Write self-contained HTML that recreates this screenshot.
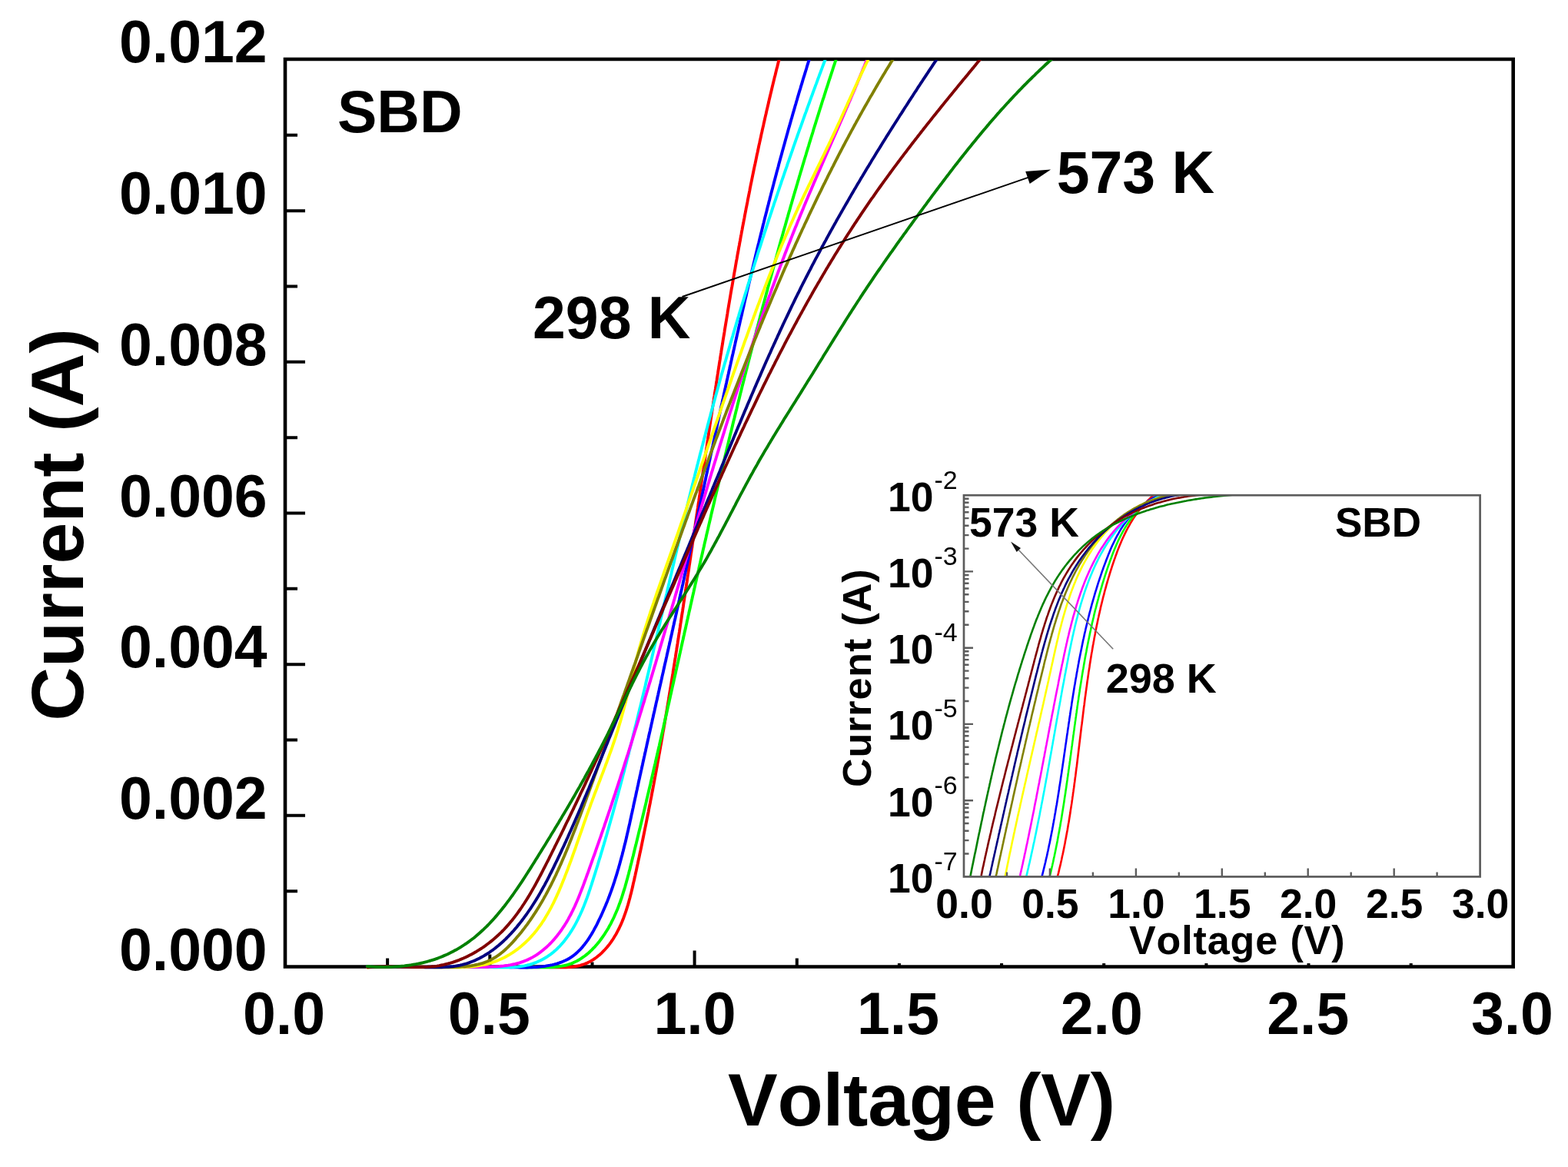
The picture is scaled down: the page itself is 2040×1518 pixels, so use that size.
<!DOCTYPE html><html><head><meta charset="utf-8"><title>I-V characteristics</title>
<style>html,body{margin:0;padding:0;background:#fff;}svg{display:block;}text{font-kerning:none;font-feature-settings:"kern" 0;}</style></head><body>
<svg width="2040" height="1518" viewBox="0 0 2040 1518">
<rect width="2040" height="1518" fill="#fff"/>
<defs><clipPath id="cm"><rect x="371" y="78" width="1598" height="1183"/></clipPath><clipPath id="ci"><rect x="1254" y="645" width="672" height="496"/></clipPath></defs>
<g fill="none" stroke="#000" stroke-width="4.6" stroke-linecap="square">
<path d="M371.0 77.0 H1968.7 V1257.5 H371.0 Z"/>
</g>
<path d="M371.0 1159.2h16 M371.0 1060.8h26 M371.0 962.5h16 M371.0 864.2h26 M371.0 765.8h16 M371.0 667.5h26 M371.0 569.2h16 M371.0 470.8h26 M371.0 372.5h16 M371.0 274.2h26 M371.0 175.8h16 M504.1 1257.5v-11.0 M637.3 1257.5v-16.0 M770.5 1257.5v-6.0 M903.6 1257.5v-21.0 M1036.8 1257.5v-11.0 M1169.9 1257.5v-4.5 M1303.1 1257.5v-4.5 M1436.2 1257.5v-4.5 M1569.4 1257.5v-4.5 M1702.5 1257.5v-4.5 M1835.7 1257.5v-4.5" stroke="#000" stroke-width="4" fill="none"/>
<g clip-path="url(#cm)" fill="none" stroke-width="3.9" stroke-linejoin="round" stroke-linecap="round">
<path d="M478.0 1257.4 481.0 1257.4 484.0 1257.5 487.0 1257.5 490.0 1257.5 493.0 1257.6 496.0 1257.6 499.0 1257.6 502.1 1257.6 505.1 1257.7 508.1 1257.7 511.1 1257.7 514.1 1257.7 517.1 1257.7 520.1 1257.7 523.1 1257.7 526.1 1257.7 529.1 1257.7 532.2 1257.7 535.2 1257.7 538.2 1257.7 541.2 1257.7 544.2 1257.7 547.2 1257.7 550.2 1257.7 553.2 1257.7 556.2 1257.7 559.2 1257.7 562.3 1257.7 565.3 1257.6 568.3 1257.6 571.3 1257.6 574.3 1257.6 577.3 1257.6 580.3 1257.6 583.3 1257.6 586.3 1257.6 589.3 1257.5 592.4 1257.5 595.4 1257.5 598.4 1257.5 601.4 1257.5 604.4 1257.5 607.4 1257.5 610.4 1257.5 613.4 1257.5 616.4 1257.4 619.4 1257.4 622.5 1257.4 625.5 1257.4 628.5 1257.4 631.5 1257.4 634.5 1257.4 637.5 1257.4 640.5 1257.4 643.5 1257.4 646.5 1257.4 649.5 1257.4 652.6 1257.4 655.6 1257.5 658.6 1257.5 661.6 1257.5 664.6 1257.5 667.6 1257.5 670.6 1257.6 673.6 1257.6 676.6 1257.6 679.6 1257.6 682.7 1257.7 685.7 1257.7 688.7 1257.7 691.7 1257.8 694.7 1257.8 697.7 1257.9 700.7 1257.9 703.7 1258.0 706.7 1258.0 709.7 1258.1 712.8 1258.1 715.8 1258.2 718.8 1258.3 721.8 1258.3 724.8 1258.4 727.8 1258.4 730.8 1258.4 733.8 1258.4 736.8 1258.3 739.8 1258.1 742.8 1257.8 745.8 1257.5 748.8 1257.0 751.8 1256.5 754.7 1255.8 757.6 1254.9 760.4 1254.0 763.2 1252.9 766.0 1251.6 768.6 1250.2 771.2 1248.6 773.7 1247.0 776.1 1245.2 778.5 1243.3 780.8 1241.4 783.0 1239.3 785.1 1237.2 787.2 1235.0 789.2 1232.8 791.1 1230.5 793.0 1228.1 794.8 1225.7 796.5 1223.2 798.1 1220.7 799.7 1218.1 801.3 1215.5 802.7 1212.9 804.1 1210.2 805.5 1207.5 806.7 1204.8 808.0 1202.1 809.2 1199.3 810.3 1196.5 811.4 1193.7 812.4 1190.9 813.4 1188.1 814.4 1185.2 815.3 1182.3 816.2 1179.5 817.1 1176.6 817.9 1173.7 818.7 1170.8 819.5 1167.9 820.2 1165.0 821.0 1162.0 821.7 1159.1 822.4 1156.2 823.1 1153.3 823.7 1150.3 824.4 1147.4 825.1 1144.5 825.7 1141.5 826.4 1138.6 827.0 1135.6 827.7 1132.7 828.3 1129.8 828.9 1126.8 829.6 1123.9 830.2 1120.9 830.8 1118.0 831.5 1115.0 832.1 1112.1 832.7 1109.2 833.4 1106.2 834.0 1103.3 834.6 1100.3 835.2 1097.4 835.8 1094.4 836.4 1091.5 837.0 1088.5 837.6 1085.6 838.2 1082.6 838.8 1079.7 839.4 1076.7 840.0 1073.8 840.6 1070.8 841.2 1067.9 841.8 1064.9 842.4 1062.0 843.0 1059.0 843.6 1056.1 844.1 1053.1 844.7 1050.2 845.3 1047.2 845.9 1044.3 846.4 1041.3 847.0 1038.3 847.6 1035.4 848.1 1032.4 848.7 1029.5 849.3 1026.5 849.8 1023.6 850.4 1020.6 850.9 1017.6 851.5 1014.7 852.0 1011.7 852.6 1008.8 853.1 1005.8 853.7 1002.8 854.2 999.9 854.8 996.9 855.3 994.0 855.8 991.0 856.4 988.0 856.9 985.1 857.4 982.1 858.0 979.1 858.5 976.2 859.0 973.2 859.5 970.3 860.1 967.3 860.6 964.3 861.1 961.4 861.6 958.4 862.1 955.4 862.6 952.5 863.2 949.5 863.7 946.5 864.2 943.6 864.7 940.6 865.2 937.6 865.7 934.7 866.2 931.7 866.7 928.7 867.2 925.8 867.7 922.8 868.2 919.8 868.7 916.9 869.2 913.9 869.7 910.9 870.2 907.9 870.6 905.0 871.1 902.0 871.6 899.0 872.1 896.1 872.6 893.1 873.1 890.1 873.6 887.2 874.0 884.2 874.5 881.2 875.0 878.2 875.5 875.3 875.9 872.3 876.4 869.3 876.9 866.3 877.4 863.4 877.8 860.4 878.3 857.4 878.8 854.5 879.2 851.5 879.7 848.5 880.2 845.5 880.6 842.6 881.1 839.6 881.6 836.6 882.0 833.6 882.5 830.7 882.9 827.7 883.4 824.7 883.9 821.7 884.3 818.8 884.8 815.8 885.2 812.8 885.7 809.8 886.1 806.9 886.6 803.9 887.0 800.9 887.5 797.9 888.0 795.0 888.4 792.0 888.9 789.0 889.3 786.0 889.7 783.1 890.2 780.1 890.6 777.1 891.1 774.1 891.5 771.1 892.0 768.2 892.4 765.2 892.9 762.2 893.3 759.2 893.8 756.3 894.2 753.3 894.6 750.3 895.1 747.3 895.5 744.4 896.0 741.4 896.4 738.4 896.8 735.4 897.3 732.4 897.7 729.5 898.2 726.5 898.6 723.5 899.0 720.5 899.5 717.6 899.9 714.6 900.4 711.6 900.8 708.6 901.2 705.6 901.7 702.7 902.1 699.7 902.5 696.7 903.0 693.7 903.4 690.7 903.8 687.8 904.3 684.8 904.7 681.8 905.1 678.8 905.6 675.9 906.0 672.9 906.5 669.9 906.9 666.9 907.3 663.9 907.8 661.0 908.2 658.0 908.6 655.0 909.1 652.0 909.5 649.0 909.9 646.1 910.4 643.1 910.8 640.1 911.2 637.1 911.7 634.2 912.1 631.2 912.5 628.2 913.0 625.2 913.4 622.2 913.9 619.3 914.3 616.3 914.7 613.3 915.2 610.3 915.6 607.4 916.0 604.4 916.5 601.4 916.9 598.4 917.4 595.4 917.8 592.5 918.2 589.5 918.7 586.5 919.1 583.5 919.6 580.6 920.0 577.6 920.4 574.6 920.9 571.6 921.3 568.6 921.8 565.7 922.2 562.7 922.7 559.7 923.1 556.7 923.5 553.8 924.0 550.8 924.4 547.8 924.9 544.8 925.3 541.9 925.8 538.9 926.2 535.9 926.7 532.9 927.1 529.9 927.6 527.0 928.0 524.0 928.5 521.0 928.9 518.0 929.4 515.1 929.8 512.1 930.3 509.1 930.8 506.1 931.2 503.2 931.7 500.2 932.1 497.2 932.6 494.2 933.0 491.3 933.5 488.3 934.0 485.3 934.4 482.3 934.9 479.4 935.4 476.4 935.8 473.4 936.3 470.4 936.8 467.5 937.2 464.5 937.7 461.5 938.2 458.6 938.6 455.6 939.1 452.6 939.6 449.6 940.1 446.7 940.5 443.7 941.0 440.7 941.5 437.7 942.0 434.8 942.5 431.8 942.9 428.8 943.4 425.9 943.9 422.9 944.4 419.9 944.9 417.0 945.4 414.0 945.9 411.0 946.4 408.0 946.8 405.1 947.3 402.1 947.8 399.1 948.3 396.2 948.8 393.2 949.3 390.2 949.8 387.3 950.3 384.3 950.8 381.3 951.3 378.4 951.8 375.4 952.4 372.4 952.9 369.5 953.4 366.5 953.9 363.5 954.4 360.6 954.9 357.6 955.4 354.6 956.0 351.7 956.5 348.7 957.0 345.7 957.5 342.8 958.0 339.8 958.6 336.8 959.1 333.9 959.6 330.9 960.2 328.0 960.7 325.0 961.2 322.0 961.8 319.1 962.3 316.1 962.9 313.1 963.4 310.2 963.9 307.2 964.5 304.3 965.0 301.3 965.6 298.3 966.1 295.4 966.7 292.4 967.3 289.5 967.8 286.5 968.4 283.6 968.9 280.6 969.5 277.6 970.1 274.7 970.6 271.7 971.2 268.8 971.8 265.8 972.4 262.9 972.9 259.9 973.5 257.0 974.1 254.0 974.7 251.1 975.3 248.1 975.8 245.1 976.4 242.2 977.0 239.2 977.6 236.3 978.2 233.3 978.8 230.4 979.4 227.4 980.0 224.5 980.6 221.5 981.2 218.6 981.8 215.7 982.5 212.7 983.1 209.8 983.7 206.8 984.3 203.9 984.9 200.9 985.6 198.0 986.2 195.0 986.8 192.1 987.4 189.1 988.1 186.2 988.7 183.3 989.4 180.3 990.0 177.4 990.6 174.4 991.3 171.5 991.9 168.6 992.6 165.6 993.3 162.7 993.9 159.7 994.6 156.8 995.2 153.9 995.9 150.9 996.6 148.0 997.2 145.1 997.9 142.1 998.6 139.2 999.3 136.3 1000.0 133.3 1000.6 130.4 1001.3 127.5 1002.0 124.5 1002.7 121.6 1003.4 118.7 1004.1 115.8 1004.8 112.8 1005.5 109.9 1006.2 107.0 1006.9 104.1 1007.6 101.1 1008.4 98.2 1009.1 95.3 1009.8 92.4 1010.5 89.4 1011.3 86.5 1012.0 83.6 1012.7 80.7 1013.5 77.8 1014.2 74.9 1014.9 71.9 1015.7 69.0" stroke="#ff0000"/>
<path d="M477.9 1257.3 480.9 1257.3 483.9 1257.4 487.0 1257.5 490.0 1257.5 493.0 1257.6 496.0 1257.6 499.0 1257.7 502.0 1257.7 505.0 1257.7 508.0 1257.7 511.0 1257.8 514.1 1257.8 517.1 1257.8 520.1 1257.8 523.1 1257.8 526.1 1257.8 529.1 1257.8 532.1 1257.8 535.1 1257.8 538.2 1257.8 541.2 1257.8 544.2 1257.8 547.2 1257.7 550.2 1257.7 553.2 1257.7 556.2 1257.7 559.2 1257.7 562.2 1257.6 565.3 1257.6 568.3 1257.6 571.3 1257.6 574.3 1257.5 577.3 1257.5 580.3 1257.5 583.3 1257.5 586.3 1257.5 589.3 1257.4 592.4 1257.4 595.4 1257.4 598.4 1257.4 601.4 1257.4 604.4 1257.3 607.4 1257.3 610.4 1257.3 613.4 1257.3 616.4 1257.3 619.5 1257.3 622.5 1257.3 625.5 1257.3 628.5 1257.3 631.5 1257.3 634.5 1257.3 637.5 1257.4 640.5 1257.4 643.6 1257.4 646.6 1257.4 649.6 1257.5 652.6 1257.5 655.6 1257.6 658.6 1257.6 661.6 1257.7 664.6 1257.7 667.6 1257.8 670.7 1257.9 673.7 1257.9 676.7 1258.0 679.7 1258.1 682.7 1258.1 685.7 1258.2 688.7 1258.2 691.7 1258.2 694.7 1258.3 697.8 1258.3 700.8 1258.3 703.8 1258.3 706.8 1258.3 709.8 1258.3 712.8 1258.2 715.8 1258.1 718.8 1258.0 721.8 1257.8 724.8 1257.5 727.8 1257.2 730.8 1256.7 733.8 1256.1 736.7 1255.5 739.6 1254.6 742.4 1253.7 745.2 1252.6 748.0 1251.3 750.7 1250.0 753.3 1248.5 755.9 1246.9 758.4 1245.2 760.8 1243.5 763.2 1241.6 765.5 1239.7 767.7 1237.7 769.9 1235.6 772.0 1233.4 774.1 1231.3 776.1 1229.0 778.0 1226.7 779.9 1224.4 781.7 1222.0 783.5 1219.5 785.2 1217.1 786.9 1214.6 788.5 1212.0 790.1 1209.5 791.7 1206.9 793.1 1204.2 794.6 1201.6 795.9 1198.9 797.3 1196.2 798.6 1193.5 799.8 1190.8 801.0 1188.0 802.2 1185.2 803.4 1182.5 804.5 1179.6 805.5 1176.8 806.6 1174.0 807.6 1171.2 808.6 1168.3 809.5 1165.5 810.4 1162.6 811.3 1159.7 812.2 1156.8 813.1 1154.0 813.9 1151.1 814.7 1148.2 815.5 1145.3 816.3 1142.4 817.1 1139.4 817.9 1136.5 818.6 1133.6 819.4 1130.7 820.1 1127.8 820.8 1124.9 821.6 1121.9 822.3 1119.0 823.0 1116.1 823.8 1113.2 824.5 1110.3 825.2 1107.3 825.9 1104.4 826.6 1101.5 827.4 1098.6 828.1 1095.6 828.8 1092.7 829.5 1089.8 830.2 1086.9 830.9 1083.9 831.6 1081.0 832.4 1078.1 833.1 1075.1 833.8 1072.2 834.5 1069.3 835.2 1066.4 835.9 1063.4 836.6 1060.5 837.3 1057.6 838.0 1054.6 838.7 1051.7 839.4 1048.8 840.1 1045.9 840.8 1042.9 841.4 1040.0 842.1 1037.1 842.8 1034.1 843.5 1031.2 844.2 1028.3 844.9 1025.3 845.6 1022.4 846.3 1019.5 846.9 1016.5 847.6 1013.6 848.3 1010.7 849.0 1007.7 849.7 1004.8 850.3 1001.9 851.0 998.9 851.7 996.0 852.4 993.1 853.0 990.1 853.7 987.2 854.4 984.3 855.1 981.3 855.7 978.4 856.4 975.5 857.1 972.5 857.8 969.6 858.4 966.6 859.1 963.7 859.8 960.8 860.4 957.8 861.1 954.9 861.8 952.0 862.4 949.0 863.1 946.1 863.7 943.1 864.4 940.2 865.1 937.3 865.7 934.3 866.4 931.4 867.1 928.5 867.7 925.5 868.4 922.6 869.0 919.6 869.7 916.7 870.4 913.8 871.0 910.8 871.7 907.9 872.3 904.9 873.0 902.0 873.6 899.1 874.3 896.1 874.9 893.2 875.6 890.3 876.3 887.3 876.9 884.4 877.6 881.4 878.2 878.5 878.9 875.6 879.5 872.6 880.2 869.7 880.8 866.7 881.5 863.8 882.2 860.9 882.8 857.9 883.5 855.0 884.1 852.0 884.8 849.1 885.4 846.2 886.1 843.2 886.7 840.3 887.4 837.3 888.0 834.4 888.7 831.5 889.3 828.5 890.0 825.6 890.6 822.6 891.3 819.7 892.0 816.8 892.6 813.8 893.3 810.9 893.9 807.9 894.6 805.0 895.2 802.1 895.9 799.1 896.5 796.2 897.2 793.2 897.9 790.3 898.5 787.4 899.2 784.4 899.8 781.5 900.5 778.5 901.1 775.6 901.8 772.7 902.5 769.7 903.1 766.8 903.8 763.9 904.4 760.9 905.1 758.0 905.8 755.0 906.4 752.1 907.1 749.2 907.8 746.2 908.4 743.3 909.1 740.4 909.7 737.4 910.4 734.5 911.1 731.5 911.7 728.6 912.4 725.7 913.1 722.7 913.8 719.8 914.4 716.9 915.1 713.9 915.8 711.0 916.4 708.1 917.1 705.1 917.8 702.2 918.5 699.2 919.1 696.3 919.8 693.4 920.5 690.4 921.2 687.5 921.8 684.6 922.5 681.6 923.2 678.7 923.9 675.8 924.6 672.8 925.2 669.9 925.9 667.0 926.6 664.0 927.3 661.1 928.0 658.2 928.7 655.2 929.4 652.3 930.0 649.4 930.7 646.4 931.4 643.5 932.1 640.6 932.8 637.7 933.5 634.7 934.2 631.8 934.9 628.9 935.6 625.9 936.3 623.0 937.0 620.1 937.7 617.1 938.4 614.2 939.1 611.3 939.8 608.4 940.5 605.4 941.2 602.5 941.9 599.6 942.6 596.6 943.3 593.7 944.0 590.8 944.7 587.9 945.4 584.9 946.1 582.0 946.8 579.1 947.5 576.1 948.2 573.2 948.9 570.3 949.6 567.4 950.3 564.4 951.1 561.5 951.8 558.6 952.5 555.7 953.2 552.7 953.9 549.8 954.6 546.9 955.4 544.0 956.1 541.0 956.8 538.1 957.5 535.2 958.3 532.3 959.0 529.3 959.7 526.4 960.4 523.5 961.2 520.6 961.9 517.7 962.6 514.7 963.3 511.8 964.1 508.9 964.8 506.0 965.5 503.0 966.3 500.1 967.0 497.2 967.8 494.3 968.5 491.4 969.2 488.4 970.0 485.5 970.7 482.6 971.5 479.7 972.2 476.8 972.9 473.9 973.7 470.9 974.4 468.0 975.2 465.1 975.9 462.2 976.7 459.3 977.4 456.4 978.2 453.4 978.9 450.5 979.7 447.6 980.4 444.7 981.2 441.8 982.0 438.9 982.7 435.9 983.5 433.0 984.2 430.1 985.0 427.2 985.8 424.3 986.5 421.4 987.3 418.5 988.1 415.6 988.8 412.6 989.6 409.7 990.4 406.8 991.2 403.9 991.9 401.0 992.7 398.1 993.5 395.2 994.3 392.3 995.0 389.4 995.8 386.5 996.6 383.5 997.4 380.6 998.2 377.7 998.9 374.8 999.7 371.9 1000.5 369.0 1001.3 366.1 1002.1 363.2 1002.9 360.3 1003.7 357.4 1004.5 354.5 1005.3 351.6 1006.1 348.7 1006.9 345.8 1007.7 342.9 1008.5 340.0 1009.3 337.1 1010.1 334.2 1010.9 331.3 1011.7 328.4 1012.5 325.4 1013.3 322.5 1014.1 319.6 1014.9 316.7 1015.7 313.8 1016.5 310.9 1017.4 308.0 1018.2 305.2 1019.0 302.3 1019.8 299.4 1020.6 296.5 1021.5 293.6 1022.3 290.7 1023.1 287.8 1023.9 284.9 1024.8 282.0 1025.6 279.1 1026.4 276.2 1027.3 273.3 1028.1 270.4 1028.9 267.5 1029.8 264.6 1030.6 261.7 1031.4 258.8 1032.3 255.9 1033.1 253.0 1034.0 250.2 1034.8 247.3 1035.7 244.4 1036.5 241.5 1037.4 238.6 1038.2 235.7 1039.1 232.8 1039.9 229.9 1040.8 227.0 1041.6 224.2 1042.5 221.3 1043.4 218.4 1044.2 215.5 1045.1 212.6 1046.0 209.7 1046.8 206.8 1047.7 204.0 1048.6 201.1 1049.4 198.2 1050.3 195.3 1051.2 192.4 1052.1 189.6 1052.9 186.7 1053.8 183.8 1054.7 180.9 1055.6 178.0 1056.5 175.2 1057.4 172.3 1058.2 169.4 1059.1 166.5 1060.0 163.6 1060.9 160.8 1061.8 157.9 1062.7 155.0 1063.6 152.1 1064.5 149.3 1065.4 146.4 1066.3 143.5 1067.2 140.7 1068.1 137.8 1069.0 134.9 1069.9 132.0 1070.8 129.2 1071.8 126.3 1072.7 123.4 1073.6 120.6 1074.5 117.7 1075.4 114.8 1076.4 112.0 1077.3 109.1 1078.2 106.2 1079.1 103.4 1080.1 100.5 1081.0 97.6 1081.9 94.8 1082.9 91.9 1083.8 89.0 1084.7 86.2 1085.7 83.3 1086.6 80.5 1087.6 77.6 1088.5 74.7 1089.4 71.9 1090.4 69.0" stroke="#00ff00"/>
<path d="M477.8 1257.3 480.8 1257.4 483.8 1257.4 486.8 1257.5 489.8 1257.5 492.9 1257.6 495.9 1257.6 498.9 1257.7 501.9 1257.7 504.9 1257.7 507.9 1257.8 510.9 1257.8 513.9 1257.8 516.9 1257.8 520.0 1257.8 523.0 1257.8 526.0 1257.8 529.0 1257.8 532.0 1257.8 535.0 1257.8 538.0 1257.8 541.0 1257.7 544.1 1257.7 547.1 1257.7 550.1 1257.7 553.1 1257.6 556.1 1257.6 559.1 1257.6 562.1 1257.6 565.1 1257.5 568.1 1257.5 571.2 1257.5 574.2 1257.5 577.2 1257.4 580.2 1257.4 583.2 1257.4 586.2 1257.4 589.2 1257.3 592.2 1257.3 595.2 1257.3 598.3 1257.3 601.3 1257.3 604.3 1257.3 607.3 1257.3 610.3 1257.3 613.3 1257.3 616.3 1257.3 619.3 1257.3 622.4 1257.3 625.4 1257.3 628.4 1257.4 631.4 1257.4 634.4 1257.5 637.4 1257.5 640.4 1257.6 643.4 1257.6 646.4 1257.7 649.5 1257.8 652.5 1257.8 655.5 1257.9 658.5 1258.0 661.5 1258.1 664.5 1258.2 667.5 1258.3 670.5 1258.4 673.5 1258.4 676.6 1258.5 679.6 1258.5 682.6 1258.5 685.6 1258.5 688.6 1258.4 691.6 1258.3 694.6 1258.1 697.6 1258.0 700.6 1257.7 703.6 1257.4 706.6 1257.1 709.6 1256.7 712.6 1256.2 715.5 1255.7 718.5 1255.1 721.4 1254.4 724.3 1253.6 727.2 1252.7 730.0 1251.7 732.8 1250.5 735.6 1249.3 738.3 1248.0 740.9 1246.5 743.4 1244.9 745.9 1243.1 748.3 1241.3 750.5 1239.3 752.7 1237.2 754.8 1235.1 756.9 1232.9 758.8 1230.6 760.7 1228.2 762.5 1225.8 764.3 1223.4 766.0 1220.9 767.6 1218.3 769.2 1215.8 770.7 1213.2 772.2 1210.6 773.6 1207.9 775.1 1205.3 776.5 1202.6 777.8 1199.9 779.1 1197.2 780.4 1194.5 781.7 1191.8 783.0 1189.0 784.2 1186.3 785.4 1183.5 786.6 1180.8 787.8 1178.0 788.9 1175.2 790.1 1172.4 791.2 1169.6 792.3 1166.8 793.3 1164.0 794.4 1161.1 795.4 1158.3 796.4 1155.5 797.4 1152.6 798.3 1149.8 799.3 1146.9 800.2 1144.0 801.1 1141.2 802.0 1138.3 802.9 1135.4 803.7 1132.5 804.6 1129.6 805.4 1126.8 806.2 1123.9 807.0 1121.0 807.8 1118.0 808.6 1115.1 809.4 1112.2 810.1 1109.3 810.9 1106.4 811.6 1103.5 812.3 1100.5 813.1 1097.6 813.8 1094.7 814.5 1091.8 815.2 1088.8 815.8 1085.9 816.5 1083.0 817.2 1080.0 817.8 1077.1 818.5 1074.2 819.2 1071.2 819.8 1068.3 820.5 1065.3 821.1 1062.4 821.7 1059.4 822.4 1056.5 823.0 1053.6 823.7 1050.6 824.3 1047.7 824.9 1044.7 825.6 1041.8 826.2 1038.8 826.9 1035.9 827.5 1033.0 828.1 1030.0 828.8 1027.1 829.4 1024.1 830.1 1021.2 830.7 1018.2 831.3 1015.3 832.0 1012.4 832.6 1009.4 833.3 1006.5 833.9 1003.5 834.6 1000.6 835.2 997.7 835.9 994.7 836.5 991.8 837.2 988.8 837.8 985.9 838.5 982.9 839.1 980.0 839.8 977.1 840.4 974.1 841.1 971.2 841.7 968.2 842.4 965.3 843.0 962.4 843.7 959.4 844.3 956.5 845.0 953.5 845.7 950.6 846.3 947.7 847.0 944.7 847.6 941.8 848.3 938.9 848.9 935.9 849.6 933.0 850.2 930.0 850.9 927.1 851.6 924.2 852.2 921.2 852.9 918.3 853.5 915.3 854.2 912.4 854.9 909.5 855.5 906.5 856.2 903.6 856.8 900.6 857.5 897.7 858.1 894.8 858.8 891.8 859.5 888.9 860.1 886.0 860.8 883.0 861.4 880.1 862.1 877.1 862.8 874.2 863.4 871.3 864.1 868.3 864.7 865.4 865.4 862.4 866.1 859.5 866.7 856.6 867.4 853.6 868.0 850.7 868.7 847.7 869.4 844.8 870.0 841.9 870.7 838.9 871.3 836.0 872.0 833.1 872.6 830.1 873.3 827.2 874.0 824.2 874.6 821.3 875.3 818.4 875.9 815.4 876.6 812.5 877.2 809.5 877.9 806.6 878.6 803.7 879.2 800.7 879.9 797.8 880.5 794.8 881.2 791.9 881.8 789.0 882.5 786.0 883.1 783.1 883.8 780.1 884.4 777.2 885.1 774.3 885.7 771.3 886.4 768.4 887.1 765.4 887.7 762.5 888.4 759.6 889.0 756.6 889.7 753.7 890.3 750.7 890.9 747.8 891.6 744.9 892.2 741.9 892.9 739.0 893.5 736.0 894.2 733.1 894.8 730.1 895.5 727.2 896.1 724.3 896.8 721.3 897.4 718.4 898.0 715.4 898.7 712.5 899.3 709.6 900.0 706.6 900.6 703.7 901.2 700.7 901.9 697.8 902.5 694.8 903.2 691.9 903.8 688.9 904.4 686.0 905.1 683.1 905.7 680.1 906.3 677.2 907.0 674.2 907.6 671.3 908.2 668.3 908.9 665.4 909.5 662.5 910.2 659.5 910.8 656.6 911.4 653.6 912.1 650.7 912.7 647.7 913.3 644.8 914.0 641.8 914.6 638.9 915.2 636.0 915.9 633.0 916.5 630.1 917.1 627.1 917.8 624.2 918.4 621.2 919.0 618.3 919.7 615.3 920.3 612.4 920.9 609.5 921.6 606.5 922.2 603.6 922.8 600.6 923.5 597.7 924.1 594.7 924.7 591.8 925.4 588.8 926.0 585.9 926.6 583.0 927.3 580.0 927.9 577.1 928.5 574.1 929.2 571.2 929.8 568.2 930.4 565.3 931.1 562.4 931.7 559.4 932.4 556.5 933.0 553.5 933.6 550.6 934.3 547.6 934.9 544.7 935.5 541.7 936.2 538.8 936.8 535.9 937.5 532.9 938.1 530.0 938.7 527.0 939.4 524.1 940.0 521.1 940.7 518.2 941.3 515.3 942.0 512.3 942.6 509.4 943.2 506.4 943.9 503.5 944.5 500.6 945.2 497.6 945.8 494.7 946.5 491.7 947.1 488.8 947.8 485.9 948.4 482.9 949.1 480.0 949.7 477.0 950.4 474.1 951.0 471.1 951.7 468.2 952.3 465.3 953.0 462.3 953.7 459.4 954.3 456.5 955.0 453.5 955.6 450.6 956.3 447.6 956.9 444.7 957.6 441.8 958.3 438.8 958.9 435.9 959.6 432.9 960.3 430.0 960.9 427.1 961.6 424.1 962.3 421.2 962.9 418.3 963.6 415.3 964.3 412.4 965.0 409.5 965.6 406.5 966.3 403.6 967.0 400.6 967.7 397.7 968.3 394.8 969.0 391.8 969.7 388.9 970.4 386.0 971.1 383.0 971.7 380.1 972.4 377.2 973.1 374.2 973.8 371.3 974.5 368.4 975.2 365.5 975.9 362.5 976.6 359.6 977.3 356.7 978.0 353.7 978.7 350.8 979.4 347.9 980.1 344.9 980.8 342.0 981.5 339.1 982.2 336.2 982.9 333.2 983.6 330.3 984.3 327.4 985.0 324.4 985.7 321.5 986.4 318.6 987.2 315.7 987.9 312.7 988.6 309.8 989.3 306.9 990.0 304.0 990.8 301.1 991.5 298.1 992.2 295.2 992.9 292.3 993.7 289.4 994.4 286.4 995.1 283.5 995.9 280.6 996.6 277.7 997.4 274.8 998.1 271.8 998.8 268.9 999.6 266.0 1000.3 263.1 1001.1 260.2 1001.8 257.3 1002.6 254.3 1003.3 251.4 1004.1 248.5 1004.9 245.6 1005.6 242.7 1006.4 239.8 1007.1 236.9 1007.9 233.9 1008.7 231.0 1009.5 228.1 1010.2 225.2 1011.0 222.3 1011.8 219.4 1012.6 216.5 1013.3 213.6 1014.1 210.7 1014.9 207.8 1015.7 204.8 1016.5 201.9 1017.3 199.0 1018.1 196.1 1018.9 193.2 1019.7 190.3 1020.5 187.4 1021.3 184.5 1022.1 181.6 1022.9 178.7 1023.7 175.8 1024.5 172.9 1025.3 170.0 1026.1 167.1 1027.0 164.2 1027.8 161.3 1028.6 158.4 1029.4 155.5 1030.3 152.6 1031.1 149.7 1031.9 146.8 1032.8 143.9 1033.6 141.1 1034.4 138.2 1035.3 135.3 1036.1 132.4 1037.0 129.5 1037.8 126.6 1038.7 123.7 1039.5 120.8 1040.4 117.9 1041.3 115.1 1042.1 112.2 1043.0 109.3 1043.9 106.4 1044.7 103.5 1045.6 100.6 1046.5 97.8 1047.4 94.9 1048.3 92.0 1049.2 89.1 1050.0 86.2 1050.9 83.4 1051.8 80.5 1052.7 77.6 1053.6 74.7 1054.5 71.9 1055.4 69.0" stroke="#0000ff"/>
<path d="M477.8 1257.4 480.8 1257.5 483.8 1257.5 486.9 1257.6 489.9 1257.6 492.9 1257.6 495.9 1257.7 498.9 1257.7 501.9 1257.7 504.9 1257.7 507.9 1257.7 510.9 1257.7 513.9 1257.7 516.9 1257.7 519.9 1257.7 523.0 1257.7 526.0 1257.7 529.0 1257.7 532.0 1257.7 535.0 1257.7 538.0 1257.7 541.0 1257.6 544.0 1257.6 547.0 1257.6 550.0 1257.6 553.0 1257.5 556.0 1257.5 559.1 1257.5 562.1 1257.5 565.1 1257.4 568.1 1257.4 571.1 1257.4 574.1 1257.4 577.1 1257.4 580.1 1257.4 583.1 1257.4 586.1 1257.4 589.1 1257.3 592.1 1257.4 595.2 1257.4 598.2 1257.4 601.2 1257.4 604.2 1257.4 607.2 1257.4 610.2 1257.5 613.2 1257.5 616.2 1257.5 619.2 1257.6 622.2 1257.6 625.2 1257.7 628.2 1257.8 631.3 1257.8 634.3 1257.9 637.3 1258.0 640.3 1258.1 643.3 1258.2 646.3 1258.3 649.3 1258.3 652.3 1258.4 655.3 1258.4 658.3 1258.4 661.3 1258.3 664.3 1258.2 667.3 1258.1 670.3 1257.9 673.3 1257.6 676.3 1257.2 679.3 1256.8 682.3 1256.3 685.2 1255.7 688.1 1255.0 691.0 1254.1 693.9 1253.2 696.7 1252.2 699.5 1251.0 702.2 1249.8 704.9 1248.5 707.6 1247.0 710.2 1245.5 712.7 1243.9 715.2 1242.2 717.6 1240.4 720.0 1238.5 722.2 1236.6 724.5 1234.5 726.6 1232.4 728.7 1230.3 730.7 1228.0 732.7 1225.7 734.6 1223.4 736.4 1221.0 738.2 1218.6 740.0 1216.2 741.6 1213.7 743.3 1211.2 744.9 1208.6 746.4 1206.0 747.9 1203.4 749.3 1200.8 750.7 1198.1 752.1 1195.4 753.4 1192.7 754.7 1190.0 755.9 1187.3 757.2 1184.5 758.3 1181.7 759.5 1178.9 760.6 1176.1 761.7 1173.3 762.7 1170.5 763.8 1167.7 764.8 1164.9 765.8 1162.0 766.7 1159.2 767.7 1156.3 768.6 1153.5 769.6 1150.6 770.5 1147.7 771.4 1144.9 772.3 1142.0 773.2 1139.1 774.1 1136.3 775.0 1133.4 775.9 1130.5 776.8 1127.6 777.7 1124.8 778.5 1121.9 779.4 1119.0 780.3 1116.1 781.2 1113.3 782.0 1110.4 782.9 1107.5 783.8 1104.6 784.6 1101.7 785.5 1098.8 786.3 1096.0 787.2 1093.1 788.0 1090.2 788.9 1087.3 789.7 1084.4 790.5 1081.5 791.4 1078.6 792.2 1075.7 793.0 1072.8 793.8 1069.9 794.6 1067.0 795.5 1064.2 796.3 1061.3 797.1 1058.4 797.9 1055.5 798.7 1052.6 799.5 1049.7 800.3 1046.8 801.1 1043.9 801.9 1041.0 802.7 1038.1 803.5 1035.2 804.3 1032.2 805.0 1029.3 805.8 1026.4 806.6 1023.5 807.4 1020.6 808.1 1017.7 808.9 1014.8 809.7 1011.9 810.4 1009.0 811.2 1006.1 812.0 1003.2 812.7 1000.3 813.5 997.3 814.2 994.4 815.0 991.5 815.7 988.6 816.5 985.7 817.2 982.8 818.0 979.9 818.7 976.9 819.5 974.0 820.2 971.1 820.9 968.2 821.7 965.3 822.4 962.4 823.1 959.4 823.8 956.5 824.6 953.6 825.3 950.7 826.0 947.8 826.7 944.8 827.5 941.9 828.2 939.0 828.9 936.1 829.6 933.2 830.3 930.2 831.0 927.3 831.7 924.4 832.4 921.5 833.2 918.5 833.9 915.6 834.6 912.7 835.3 909.8 836.0 906.8 836.7 903.9 837.4 901.0 838.1 898.1 838.8 895.1 839.5 892.2 840.1 889.3 840.8 886.3 841.5 883.4 842.2 880.5 842.9 877.6 843.6 874.6 844.3 871.7 845.0 868.8 845.7 865.8 846.4 862.9 847.0 860.0 847.7 857.1 848.4 854.1 849.1 851.2 849.8 848.3 850.4 845.3 851.1 842.4 851.8 839.5 852.5 836.5 853.2 833.6 853.8 830.7 854.5 827.8 855.2 824.8 855.9 821.9 856.6 819.0 857.2 816.0 857.9 813.1 858.6 810.2 859.3 807.2 859.9 804.3 860.6 801.4 861.3 798.4 862.0 795.5 862.6 792.6 863.3 789.6 864.0 786.7 864.7 783.8 865.3 780.8 866.0 777.9 866.7 775.0 867.4 772.1 868.0 769.1 868.7 766.2 869.4 763.3 870.1 760.3 870.8 757.4 871.4 754.5 872.1 751.5 872.8 748.6 873.5 745.7 874.1 742.7 874.8 739.8 875.5 736.9 876.2 734.0 876.9 731.0 877.5 728.1 878.2 725.2 878.9 722.2 879.6 719.3 880.3 716.4 881.0 713.4 881.7 710.5 882.3 707.6 883.0 704.7 883.7 701.7 884.4 698.8 885.1 695.9 885.8 692.9 886.5 690.0 887.2 687.1 887.9 684.2 888.6 681.2 889.3 678.3 890.0 675.4 890.7 672.5 891.4 669.5 892.1 666.6 892.8 663.7 893.5 660.8 894.2 657.8 894.9 654.9 895.6 652.0 896.3 649.1 897.1 646.1 897.8 643.2 898.5 640.3 899.2 637.4 899.9 634.5 900.6 631.5 901.4 628.6 902.1 625.7 902.8 622.8 903.6 619.9 904.3 616.9 905.0 614.0 905.8 611.1 906.5 608.2 907.2 605.3 908.0 602.4 908.7 599.4 909.5 596.5 910.2 593.6 910.9 590.7 911.7 587.8 912.5 584.9 913.2 582.0 914.0 579.0 914.7 576.1 915.5 573.2 916.2 570.3 917.0 567.4 917.8 564.5 918.5 561.6 919.3 558.7 920.1 555.8 920.8 552.9 921.6 550.0 922.4 547.0 923.2 544.1 924.0 541.2 924.7 538.3 925.5 535.4 926.3 532.5 927.1 529.6 927.9 526.7 928.7 523.8 929.5 520.9 930.3 518.0 931.1 515.1 931.9 512.2 932.7 509.3 933.5 506.4 934.3 503.5 935.1 500.6 935.9 497.7 936.7 494.8 937.5 491.9 938.3 489.0 939.1 486.1 940.0 483.2 940.8 480.3 941.6 477.4 942.4 474.5 943.2 471.7 944.1 468.8 944.9 465.9 945.7 463.0 946.6 460.1 947.4 457.2 948.2 454.3 949.1 451.4 949.9 448.5 950.7 445.6 951.6 442.7 952.4 439.9 953.3 437.0 954.1 434.1 955.0 431.2 955.8 428.3 956.7 425.4 957.5 422.5 958.4 419.7 959.2 416.8 960.1 413.9 961.0 411.0 961.8 408.1 962.7 405.2 963.6 402.4 964.4 399.5 965.3 396.6 966.2 393.7 967.1 390.9 967.9 388.0 968.8 385.1 969.7 382.2 970.6 379.3 971.5 376.5 972.3 373.6 973.2 370.7 974.1 367.8 975.0 365.0 975.9 362.1 976.8 359.2 977.7 356.4 978.6 353.5 979.5 350.6 980.4 347.7 981.3 344.9 982.2 342.0 983.1 339.1 984.0 336.3 984.9 333.4 985.8 330.5 986.7 327.7 987.6 324.8 988.6 321.9 989.5 319.1 990.4 316.2 991.3 313.3 992.2 310.5 993.2 307.6 994.1 304.7 995.0 301.9 996.0 299.0 996.9 296.2 997.8 293.3 998.8 290.4 999.7 287.6 1000.6 284.7 1001.6 281.9 1002.5 279.0 1003.5 276.2 1004.4 273.3 1005.3 270.4 1006.3 267.6 1007.2 264.7 1008.2 261.9 1009.2 259.0 1010.1 256.2 1011.1 253.3 1012.0 250.5 1013.0 247.6 1013.9 244.8 1014.9 241.9 1015.9 239.1 1016.8 236.2 1017.8 233.4 1018.8 230.5 1019.8 227.7 1020.7 224.8 1021.7 222.0 1022.7 219.1 1023.7 216.3 1024.6 213.4 1025.6 210.6 1026.6 207.8 1027.6 204.9 1028.6 202.1 1029.6 199.2 1030.6 196.4 1031.5 193.6 1032.5 190.7 1033.5 187.9 1034.5 185.0 1035.5 182.2 1036.5 179.4 1037.5 176.5 1038.5 173.7 1039.5 170.9 1040.5 168.0 1041.6 165.2 1042.6 162.3 1043.6 159.5 1044.6 156.7 1045.6 153.8 1046.6 151.0 1047.6 148.2 1048.7 145.4 1049.7 142.5 1050.7 139.7 1051.7 136.9 1052.8 134.0 1053.8 131.2 1054.8 128.4 1055.8 125.6 1056.9 122.7 1057.9 119.9 1058.9 117.1 1060.0 114.3 1061.0 111.4 1062.1 108.6 1063.1 105.8 1064.1 103.0 1065.2 100.1 1066.2 97.3 1067.3 94.5 1068.3 91.7 1069.4 88.9 1070.4 86.1 1071.5 83.2 1072.6 80.4 1073.6 77.6 1074.7 74.8 1075.7 72.0 1076.8 69.2" stroke="#00ffff"/>
<path d="M477.9 1257.9 480.9 1257.9 483.9 1257.8 486.9 1257.7 489.9 1257.7 492.9 1257.6 495.9 1257.6 498.9 1257.5 501.9 1257.5 504.9 1257.5 507.9 1257.4 510.9 1257.4 513.9 1257.4 517.0 1257.4 520.0 1257.4 523.0 1257.4 526.0 1257.4 529.0 1257.4 532.0 1257.4 535.0 1257.4 538.0 1257.4 541.0 1257.4 544.0 1257.5 547.0 1257.5 550.0 1257.5 553.0 1257.5 556.1 1257.6 559.1 1257.6 562.1 1257.6 565.1 1257.6 568.1 1257.7 571.1 1257.7 574.1 1257.7 577.1 1257.8 580.1 1257.8 583.1 1257.8 586.1 1257.8 589.1 1257.8 592.2 1257.9 595.2 1257.9 598.2 1257.9 601.2 1257.9 604.2 1257.9 607.2 1257.9 610.2 1257.9 613.2 1257.9 616.2 1257.9 619.2 1257.9 622.2 1257.9 625.2 1257.8 628.2 1257.8 631.3 1257.8 634.3 1257.7 637.3 1257.6 640.3 1257.5 643.3 1257.4 646.3 1257.2 649.3 1257.0 652.3 1256.7 655.3 1256.4 658.3 1256.0 661.2 1255.6 664.2 1255.1 667.2 1254.5 670.1 1253.9 673.0 1253.1 675.9 1252.3 678.8 1251.4 681.6 1250.4 684.4 1249.3 687.2 1248.1 689.9 1246.8 692.5 1245.4 695.1 1243.9 697.7 1242.3 700.2 1240.6 702.6 1238.9 705.0 1237.0 707.4 1235.1 709.6 1233.2 711.9 1231.2 714.1 1229.1 716.2 1227.0 718.3 1224.8 720.3 1222.6 722.3 1220.3 724.2 1218.0 726.0 1215.6 727.9 1213.2 729.6 1210.8 731.4 1208.3 733.0 1205.8 734.7 1203.3 736.3 1200.8 737.8 1198.2 739.3 1195.6 740.7 1192.9 742.2 1190.3 743.5 1187.6 744.9 1184.9 746.2 1182.2 747.5 1179.5 748.7 1176.7 749.9 1174.0 751.1 1171.2 752.3 1168.4 753.4 1165.7 754.5 1162.9 755.6 1160.1 756.7 1157.3 757.8 1154.5 758.9 1151.6 759.9 1148.8 760.9 1146.0 762.0 1143.2 763.0 1140.4 764.0 1137.5 765.1 1134.7 766.1 1131.9 767.1 1129.0 768.1 1126.2 769.1 1123.4 770.1 1120.5 771.1 1117.7 772.1 1114.9 773.2 1112.0 774.2 1109.2 775.1 1106.4 776.1 1103.5 777.1 1100.7 778.1 1097.8 779.1 1095.0 780.1 1092.2 781.1 1089.3 782.1 1086.5 783.0 1083.6 784.0 1080.8 785.0 1077.9 786.0 1075.1 786.9 1072.2 787.9 1069.4 788.9 1066.5 789.8 1063.7 790.8 1060.8 791.7 1058.0 792.7 1055.1 793.7 1052.3 794.6 1049.4 795.6 1046.6 796.5 1043.7 797.4 1040.9 798.4 1038.0 799.3 1035.2 800.3 1032.3 801.2 1029.4 802.1 1026.6 803.1 1023.7 804.0 1020.9 804.9 1018.0 805.9 1015.1 806.8 1012.3 807.7 1009.4 808.6 1006.5 809.6 1003.7 810.5 1000.8 811.4 998.0 812.3 995.1 813.2 992.2 814.1 989.4 815.0 986.5 815.9 983.6 816.9 980.8 817.8 977.9 818.7 975.0 819.6 972.1 820.5 969.3 821.4 966.4 822.3 963.5 823.2 960.7 824.0 957.8 824.9 954.9 825.8 952.0 826.7 949.2 827.6 946.3 828.5 943.4 829.4 940.5 830.3 937.7 831.1 934.8 832.0 931.9 832.9 929.0 833.8 926.2 834.7 923.3 835.5 920.4 836.4 917.5 837.3 914.7 838.2 911.8 839.0 908.9 839.9 906.0 840.8 903.1 841.6 900.3 842.5 897.4 843.4 894.5 844.2 891.6 845.1 888.7 846.0 885.9 846.8 883.0 847.7 880.1 848.6 877.2 849.4 874.3 850.3 871.4 851.1 868.6 852.0 865.7 852.9 862.8 853.7 859.9 854.6 857.0 855.4 854.1 856.3 851.3 857.1 848.4 858.0 845.5 858.8 842.6 859.7 839.7 860.5 836.8 861.4 833.9 862.2 831.1 863.1 828.2 863.9 825.3 864.8 822.4 865.6 819.5 866.5 816.6 867.3 813.7 868.2 810.9 869.0 808.0 869.9 805.1 870.7 802.2 871.5 799.3 872.4 796.4 873.2 793.5 874.1 790.6 874.9 787.8 875.8 784.9 876.6 782.0 877.5 779.1 878.3 776.2 879.1 773.3 880.0 770.4 880.8 767.5 881.7 764.7 882.5 761.8 883.4 758.9 884.2 756.0 885.0 753.1 885.9 750.2 886.7 747.3 887.6 744.4 888.4 741.6 889.3 738.7 890.1 735.8 890.9 732.9 891.8 730.0 892.6 727.1 893.5 724.2 894.3 721.3 895.2 718.5 896.0 715.6 896.8 712.7 897.7 709.8 898.5 706.9 899.4 704.0 900.2 701.1 901.1 698.3 901.9 695.4 902.8 692.5 903.6 689.6 904.5 686.7 905.3 683.8 906.2 680.9 907.0 678.1 907.9 675.2 908.7 672.3 909.6 669.4 910.4 666.5 911.3 663.6 912.1 660.7 913.0 657.9 913.8 655.0 914.7 652.1 915.6 649.2 916.4 646.3 917.3 643.4 918.1 640.6 919.0 637.7 919.9 634.8 920.7 631.9 921.6 629.0 922.5 626.2 923.3 623.3 924.2 620.4 925.1 617.5 925.9 614.6 926.8 611.8 927.7 608.9 928.5 606.0 929.4 603.1 930.3 600.2 931.2 597.4 932.0 594.5 932.9 591.6 933.8 588.7 934.7 585.9 935.5 583.0 936.4 580.1 937.3 577.2 938.2 574.4 939.1 571.5 940.0 568.6 940.9 565.7 941.8 562.9 942.6 560.0 943.5 557.1 944.4 554.2 945.3 551.4 946.2 548.5 947.1 545.6 948.0 542.8 948.9 539.9 949.8 537.0 950.7 534.2 951.7 531.3 952.6 528.4 953.5 525.5 954.4 522.7 955.3 519.8 956.2 517.0 957.1 514.1 958.1 511.2 959.0 508.4 959.9 505.5 960.8 502.6 961.8 499.8 962.7 496.9 963.6 494.1 964.5 491.2 965.5 488.3 966.4 485.5 967.4 482.6 968.3 479.8 969.2 476.9 970.2 474.0 971.1 471.2 972.1 468.3 973.0 465.5 974.0 462.6 974.9 459.8 975.9 456.9 976.9 454.1 977.8 451.2 978.8 448.4 979.8 445.5 980.7 442.7 981.7 439.8 982.7 437.0 983.7 434.1 984.6 431.3 985.6 428.5 986.6 425.6 987.6 422.8 988.6 419.9 989.6 417.1 990.6 414.3 991.6 411.4 992.6 408.6 993.6 405.7 994.6 402.9 995.6 400.1 996.6 397.2 997.6 394.4 998.6 391.6 999.6 388.7 1000.6 385.9 1001.7 383.1 1002.7 380.3 1003.7 377.4 1004.7 374.6 1005.8 371.8 1006.8 369.0 1007.9 366.1 1008.9 363.3 1009.9 360.5 1011.0 357.7 1012.0 354.9 1013.1 352.0 1014.2 349.2 1015.2 346.4 1016.3 343.6 1017.4 340.8 1018.4 338.0 1019.5 335.2 1020.6 332.3 1021.6 329.5 1022.7 326.7 1023.8 323.9 1024.9 321.1 1026.0 318.3 1027.1 315.5 1028.2 312.7 1029.3 309.9 1030.4 307.1 1031.5 304.3 1032.6 301.5 1033.7 298.7 1034.8 295.9 1036.0 293.2 1037.1 290.4 1038.2 287.6 1039.4 284.8 1040.5 282.0 1041.6 279.2 1042.8 276.4 1043.9 273.7 1045.1 270.9 1046.2 268.1 1047.4 265.3 1048.5 262.5 1049.7 259.8 1050.9 257.0 1052.0 254.2 1053.2 251.5 1054.4 248.7 1055.6 245.9 1056.7 243.2 1057.9 240.4 1059.1 237.6 1060.3 234.9 1061.5 232.1 1062.7 229.3 1063.9 226.6 1065.1 223.8 1066.3 221.1 1067.5 218.3 1068.7 215.5 1069.9 212.8 1071.1 210.0 1072.3 207.3 1073.5 204.5 1074.7 201.8 1075.9 199.0 1077.1 196.2 1078.3 193.5 1079.5 190.7 1080.7 188.0 1081.9 185.2 1083.1 182.5 1084.3 179.7 1085.6 177.0 1086.8 174.2 1088.0 171.4 1089.2 168.7 1090.4 165.9 1091.6 163.2 1092.8 160.4 1094.0 157.7 1095.2 154.9 1096.4 152.2 1097.6 149.4 1098.8 146.6 1100.0 143.9 1101.2 141.1 1102.4 138.4 1103.6 135.6 1104.8 132.8 1106.0 130.1 1107.1 127.3 1108.3 124.5 1109.5 121.8 1110.7 119.0 1111.9 116.2 1113.0 113.5 1114.2 110.7 1115.4 107.9 1116.5 105.1 1117.7 102.4 1118.9 99.6 1120.0 96.8 1121.2 94.0 1122.3 91.3 1123.4 88.5 1124.6 85.7 1125.7 82.9 1126.8 80.1 1128.0 77.3 1129.1 74.5 1130.2 71.7 1131.3 68.9" stroke="#ff00ff"/>
<path d="M478.2 1258.6 481.2 1258.3 484.2 1258.0 487.2 1257.8 490.2 1257.6 493.2 1257.4 496.2 1257.3 499.2 1257.2 502.2 1257.1 505.2 1257.0 508.2 1257.0 511.2 1257.0 514.3 1256.9 517.3 1257.0 520.3 1257.0 523.3 1257.0 526.3 1257.1 529.3 1257.1 532.3 1257.2 535.3 1257.3 538.3 1257.4 541.3 1257.5 544.3 1257.6 547.3 1257.7 550.4 1257.8 553.4 1257.9 556.4 1258.0 559.4 1258.0 562.4 1258.1 565.4 1258.2 568.4 1258.3 571.4 1258.3 574.4 1258.4 577.4 1258.4 580.4 1258.4 583.4 1258.4 586.4 1258.4 589.5 1258.4 592.5 1258.3 595.5 1258.3 598.5 1258.2 601.5 1258.1 604.5 1257.9 607.5 1257.7 610.5 1257.5 613.5 1257.3 616.5 1257.0 619.5 1256.6 622.5 1256.2 625.4 1255.7 628.4 1255.2 631.3 1254.6 634.3 1253.8 637.2 1253.0 640.0 1252.2 642.9 1251.2 645.7 1250.1 648.5 1249.0 651.2 1247.8 654.0 1246.5 656.7 1245.2 659.3 1243.7 661.9 1242.3 664.5 1240.7 667.0 1239.1 669.5 1237.4 671.9 1235.6 674.4 1233.8 676.7 1231.9 679.0 1230.0 681.3 1228.0 683.5 1226.0 685.7 1223.9 687.8 1221.8 689.9 1219.6 691.9 1217.4 693.9 1215.2 695.9 1212.9 697.8 1210.5 699.6 1208.1 701.4 1205.7 703.1 1203.3 704.9 1200.8 706.5 1198.3 708.2 1195.8 709.7 1193.2 711.3 1190.6 712.8 1188.0 714.3 1185.4 715.7 1182.8 717.2 1180.1 718.5 1177.5 719.9 1174.8 721.2 1172.1 722.5 1169.4 723.8 1166.6 725.0 1163.9 726.3 1161.1 727.5 1158.4 728.7 1155.6 729.8 1152.9 731.0 1150.1 732.1 1147.3 733.2 1144.5 734.4 1141.7 735.4 1138.9 736.5 1136.1 737.6 1133.3 738.7 1130.5 739.7 1127.7 740.8 1124.8 741.8 1122.0 742.9 1119.2 743.9 1116.4 744.9 1113.5 745.9 1110.7 746.9 1107.9 748.0 1105.0 749.0 1102.2 749.9 1099.4 750.9 1096.5 751.9 1093.7 752.9 1090.8 753.9 1088.0 754.9 1085.1 755.9 1082.3 756.9 1079.5 757.9 1076.6 758.8 1073.8 759.8 1070.9 760.8 1068.1 761.8 1065.3 762.8 1062.4 763.8 1059.6 764.8 1056.8 765.9 1053.9 766.9 1051.1 767.9 1048.3 768.9 1045.4 770.0 1042.6 771.0 1039.8 772.1 1037.0 773.1 1034.2 774.2 1031.3 775.3 1028.5 776.4 1025.7 777.4 1022.9 778.5 1020.1 779.6 1017.3 780.7 1014.5 781.7 1011.7 782.8 1008.9 783.9 1006.1 785.0 1003.2 786.0 1000.4 787.1 997.6 788.1 994.8 789.2 992.0 790.2 989.2 791.3 986.3 792.3 983.5 793.3 980.7 794.4 977.8 795.4 975.0 796.4 972.2 797.3 969.3 798.3 966.5 799.3 963.6 800.2 960.8 801.2 957.9 802.1 955.0 803.0 952.2 803.9 949.3 804.7 946.4 805.6 943.5 806.4 940.7 807.3 937.8 808.1 934.9 808.9 932.0 809.7 929.1 810.5 926.2 811.3 923.3 812.0 920.3 812.8 917.4 813.6 914.5 814.3 911.6 815.0 908.7 815.8 905.8 816.5 902.9 817.3 899.9 818.0 897.0 818.7 894.1 819.4 891.2 820.2 888.3 820.9 885.3 821.6 882.4 822.3 879.5 823.1 876.6 823.8 873.7 824.5 870.7 825.3 867.8 826.0 864.9 826.8 862.0 827.5 859.1 828.3 856.2 829.1 853.3 829.9 850.4 830.6 847.5 831.4 844.6 832.3 841.7 833.1 838.8 833.9 835.9 834.8 833.0 835.6 830.1 836.5 827.2 837.3 824.3 838.2 821.5 839.1 818.6 840.0 815.7 840.9 812.8 841.8 810.0 842.7 807.1 843.6 804.3 844.6 801.4 845.5 798.5 846.4 795.7 847.4 792.8 848.3 790.0 849.3 787.1 850.3 784.3 851.2 781.4 852.2 778.6 853.2 775.7 854.1 772.9 855.1 770.0 856.1 767.2 857.1 764.3 858.1 761.5 859.1 758.7 860.1 755.8 861.1 753.0 862.1 750.1 863.0 747.3 864.0 744.5 865.0 741.6 866.0 738.8 867.0 735.9 868.0 733.1 869.0 730.3 870.0 727.4 871.0 724.6 872.0 721.7 873.0 718.9 874.0 716.1 875.0 713.2 876.0 710.4 877.0 707.5 878.0 704.7 879.0 701.9 880.0 699.0 881.0 696.2 882.0 693.3 883.0 690.5 883.9 687.7 884.9 684.8 885.9 682.0 886.9 679.1 887.9 676.3 888.9 673.5 889.9 670.6 890.9 667.8 891.9 664.9 892.9 662.1 893.8 659.3 894.8 656.4 895.8 653.6 896.8 650.7 897.8 647.9 898.8 645.0 899.8 642.2 900.8 639.4 901.8 636.5 902.7 633.7 903.7 630.8 904.7 628.0 905.7 625.1 906.7 622.3 907.7 619.5 908.7 616.6 909.7 613.8 910.6 610.9 911.6 608.1 912.6 605.3 913.6 602.4 914.6 599.6 915.6 596.7 916.6 593.9 917.6 591.0 918.5 588.2 919.5 585.4 920.5 582.5 921.5 579.7 922.5 576.8 923.5 574.0 924.5 571.2 925.5 568.3 926.5 565.5 927.4 562.6 928.4 559.8 929.4 556.9 930.4 554.1 931.4 551.3 932.4 548.4 933.4 545.6 934.4 542.7 935.4 539.9 936.4 537.1 937.3 534.2 938.3 531.4 939.3 528.5 940.3 525.7 941.3 522.9 942.3 520.0 943.3 517.2 944.3 514.3 945.3 511.5 946.3 508.7 947.3 505.8 948.3 503.0 949.3 500.1 950.3 497.3 951.3 494.5 952.2 491.6 953.2 488.8 954.2 485.9 955.2 483.1 956.2 480.3 957.2 477.4 958.2 474.6 959.2 471.7 960.2 468.9 961.2 466.1 962.2 463.2 963.3 460.4 964.3 457.6 965.3 454.7 966.3 451.9 967.3 449.1 968.3 446.2 969.3 443.4 970.3 440.6 971.4 437.7 972.4 434.9 973.4 432.1 974.4 429.2 975.4 426.4 976.5 423.6 977.5 420.8 978.5 417.9 979.6 415.1 980.6 412.3 981.7 409.5 982.7 406.6 983.7 403.8 984.8 401.0 985.8 398.2 986.9 395.4 988.0 392.5 989.0 389.7 990.1 386.9 991.1 384.1 992.2 381.3 993.3 378.5 994.4 375.7 995.4 372.9 996.5 370.1 997.6 367.3 998.7 364.4 999.8 361.6 1000.9 358.8 1002.0 356.0 1003.1 353.2 1004.2 350.5 1005.3 347.7 1006.5 344.9 1007.6 342.1 1008.7 339.3 1009.8 336.5 1011.0 333.7 1012.1 330.9 1013.3 328.1 1014.4 325.4 1015.6 322.6 1016.7 319.8 1017.9 317.0 1019.1 314.3 1020.3 311.5 1021.4 308.7 1022.6 306.0 1023.8 303.2 1025.0 300.4 1026.2 297.7 1027.4 294.9 1028.6 292.2 1029.9 289.4 1031.1 286.7 1032.3 283.9 1033.5 281.2 1034.8 278.4 1036.0 275.7 1037.3 273.0 1038.5 270.2 1039.8 267.5 1041.1 264.8 1042.4 262.1 1043.6 259.3 1044.9 256.6 1046.2 253.9 1047.5 251.2 1048.8 248.5 1050.1 245.8 1051.4 243.1 1052.7 240.3 1054.1 237.6 1055.4 234.9 1056.7 232.2 1058.0 229.5 1059.3 226.8 1060.6 224.1 1062.0 221.4 1063.3 218.7 1064.6 216.0 1065.9 213.3 1067.3 210.6 1068.6 207.9 1069.9 205.2 1071.2 202.5 1072.5 199.8 1073.8 197.1 1075.1 194.4 1076.4 191.6 1077.8 188.9 1079.1 186.2 1080.4 183.5 1081.6 180.8 1082.9 178.1 1084.2 175.4 1085.5 172.6 1086.8 169.9 1088.0 167.2 1089.3 164.4 1090.5 161.7 1091.8 159.0 1093.1 156.2 1094.3 153.5 1095.5 150.8 1096.8 148.0 1098.0 145.3 1099.3 142.5 1100.5 139.8 1101.8 137.1 1103.0 134.3 1104.2 131.6 1105.5 128.8 1106.7 126.1 1108.0 123.4 1109.2 120.6 1110.5 117.9 1111.7 115.1 1113.0 112.4 1114.2 109.7 1115.5 106.9 1116.8 104.2 1118.0 101.5 1119.3 98.8 1120.6 96.0 1121.9 93.3 1123.2 90.6 1124.5 87.9 1125.8 85.2 1127.1 82.5 1128.4 79.8 1129.8 77.1 1131.1 74.4 1132.5 71.7 1133.8 69.0" stroke="#ffff00"/>
<path d="M478.0 1257.4 481.0 1257.5 484.0 1257.6 487.0 1257.7 490.0 1257.8 493.0 1257.8 496.0 1257.8 499.0 1257.8 502.0 1257.8 505.0 1257.7 508.0 1257.7 511.1 1257.6 514.1 1257.6 517.1 1257.5 520.1 1257.5 523.1 1257.4 526.1 1257.4 529.1 1257.3 532.1 1257.3 535.1 1257.3 538.1 1257.3 541.1 1257.3 544.2 1257.4 547.2 1257.4 550.2 1257.5 553.2 1257.6 556.2 1257.6 559.2 1257.7 562.2 1257.8 565.2 1257.9 568.2 1257.9 571.2 1258.0 574.2 1258.1 577.3 1258.1 580.3 1258.1 583.3 1258.1 586.3 1258.1 589.3 1258.0 592.3 1257.9 595.3 1257.8 598.3 1257.6 601.3 1257.4 604.3 1257.2 607.3 1256.9 610.3 1256.5 613.3 1256.1 616.2 1255.6 619.2 1255.0 622.1 1254.4 625.0 1253.6 627.9 1252.8 630.8 1251.8 633.6 1250.7 636.4 1249.5 639.1 1248.2 641.7 1246.8 644.3 1245.3 646.8 1243.6 649.3 1241.9 651.7 1240.1 654.0 1238.2 656.3 1236.2 658.5 1234.2 660.7 1232.1 662.8 1230.0 664.9 1227.8 667.0 1225.6 669.0 1223.4 671.0 1221.1 672.9 1218.8 674.9 1216.5 676.8 1214.2 678.7 1211.9 680.5 1209.5 682.4 1207.1 684.2 1204.7 686.0 1202.3 687.7 1199.8 689.5 1197.4 691.2 1194.9 692.9 1192.4 694.5 1189.9 696.2 1187.4 697.8 1184.9 699.4 1182.3 701.0 1179.8 702.5 1177.2 704.1 1174.6 705.6 1172.0 707.1 1169.4 708.5 1166.7 710.0 1164.1 711.4 1161.5 712.8 1158.8 714.2 1156.1 715.6 1153.5 717.0 1150.8 718.3 1148.1 719.7 1145.4 721.0 1142.7 722.3 1140.0 723.6 1137.3 724.8 1134.5 726.1 1131.8 727.3 1129.1 728.6 1126.3 729.8 1123.6 731.0 1120.8 732.2 1118.0 733.4 1115.3 734.6 1112.5 735.7 1109.7 736.9 1107.0 738.0 1104.2 739.2 1101.4 740.3 1098.6 741.4 1095.8 742.5 1093.0 743.6 1090.2 744.7 1087.4 745.8 1084.6 746.9 1081.8 748.0 1079.0 749.1 1076.2 750.1 1073.4 751.2 1070.5 752.3 1067.7 753.3 1064.9 754.4 1062.1 755.4 1059.3 756.5 1056.4 757.5 1053.6 758.5 1050.8 759.6 1048.0 760.6 1045.2 761.7 1042.3 762.7 1039.5 763.7 1036.7 764.8 1033.8 765.8 1031.0 766.8 1028.2 767.9 1025.4 768.9 1022.5 769.9 1019.7 771.0 1016.9 772.0 1014.1 773.0 1011.2 774.0 1008.4 775.1 1005.6 776.1 1002.7 777.1 999.9 778.1 997.1 779.2 994.3 780.2 991.4 781.2 988.6 782.2 985.8 783.3 982.9 784.3 980.1 785.3 977.3 786.3 974.4 787.3 971.6 788.4 968.8 789.4 965.9 790.4 963.1 791.4 960.3 792.4 957.4 793.4 954.6 794.5 951.8 795.5 948.9 796.5 946.1 797.5 943.3 798.5 940.4 799.5 937.6 800.5 934.8 801.5 931.9 802.6 929.1 803.6 926.3 804.6 923.4 805.6 920.6 806.6 917.8 807.6 914.9 808.6 912.1 809.6 909.3 810.6 906.4 811.7 903.6 812.7 900.8 813.7 897.9 814.7 895.1 815.7 892.3 816.7 889.4 817.7 886.6 818.7 883.8 819.7 880.9 820.7 878.1 821.7 875.2 822.7 872.4 823.7 869.6 824.7 866.7 825.8 863.9 826.8 861.1 827.8 858.2 828.8 855.4 829.8 852.6 830.8 849.7 831.8 846.9 832.8 844.0 833.8 841.2 834.8 838.4 835.8 835.5 836.8 832.7 837.8 829.9 838.8 827.0 839.8 824.2 840.8 821.4 841.8 818.5 842.9 815.7 843.9 812.8 844.9 810.0 845.9 807.2 846.9 804.3 847.9 801.5 848.9 798.7 849.9 795.8 850.9 793.0 851.9 790.2 852.9 787.3 853.9 784.5 854.9 781.7 855.9 778.8 857.0 776.0 858.0 773.1 859.0 770.3 860.0 767.5 861.0 764.6 862.0 761.8 863.0 759.0 864.0 756.1 865.0 753.3 866.1 750.5 867.1 747.6 868.1 744.8 869.1 742.0 870.1 739.1 871.1 736.3 872.1 733.5 873.1 730.6 874.2 727.8 875.2 725.0 876.2 722.1 877.2 719.3 878.2 716.5 879.2 713.6 880.3 710.8 881.3 708.0 882.3 705.1 883.3 702.3 884.3 699.5 885.4 696.7 886.4 693.8 887.4 691.0 888.4 688.2 889.5 685.3 890.5 682.5 891.5 679.7 892.5 676.8 893.6 674.0 894.6 671.2 895.6 668.4 896.7 665.5 897.7 662.7 898.7 659.9 899.7 657.0 900.8 654.2 901.8 651.4 902.8 648.6 903.9 645.7 904.9 642.9 906.0 640.1 907.0 637.3 908.0 634.4 909.1 631.6 910.1 628.8 911.2 626.0 912.2 623.1 913.2 620.3 914.3 617.5 915.3 614.7 916.4 611.9 917.4 609.0 918.5 606.2 919.5 603.4 920.6 600.6 921.6 597.8 922.7 594.9 923.7 592.1 924.8 589.3 925.8 586.5 926.9 583.7 928.0 580.8 929.0 578.0 930.1 575.2 931.1 572.4 932.2 569.6 933.3 566.8 934.3 564.0 935.4 561.1 936.5 558.3 937.5 555.5 938.6 552.7 939.7 549.9 940.7 547.1 941.8 544.3 942.9 541.5 944.0 538.6 945.0 535.8 946.1 533.0 947.2 530.2 948.3 527.4 949.4 524.6 950.5 521.8 951.5 519.0 952.6 516.2 953.7 513.4 954.8 510.6 955.9 507.8 957.0 505.0 958.1 502.2 959.2 499.4 960.3 496.6 961.4 493.7 962.5 490.9 963.6 488.1 964.7 485.3 965.8 482.5 966.9 479.8 968.0 477.0 969.1 474.2 970.2 471.4 971.3 468.6 972.5 465.8 973.6 463.0 974.7 460.2 975.8 457.4 976.9 454.6 978.1 451.8 979.2 449.0 980.3 446.2 981.4 443.4 982.6 440.6 983.7 437.9 984.8 435.1 986.0 432.3 987.1 429.5 988.3 426.7 989.4 423.9 990.5 421.1 991.7 418.4 992.8 415.6 994.0 412.8 995.1 410.0 996.3 407.2 997.5 404.5 998.6 401.7 999.8 398.9 1001.0 396.1 1002.1 393.4 1003.3 390.6 1004.5 387.8 1005.6 385.1 1006.8 382.3 1008.0 379.5 1009.2 376.7 1010.4 374.0 1011.5 371.2 1012.7 368.5 1013.9 365.7 1015.1 362.9 1016.3 360.2 1017.5 357.4 1018.7 354.6 1019.9 351.9 1021.1 349.1 1022.3 346.4 1023.6 343.6 1024.8 340.9 1026.0 338.1 1027.2 335.4 1028.4 332.6 1029.7 329.9 1030.9 327.1 1032.1 324.4 1033.4 321.6 1034.6 318.9 1035.8 316.1 1037.1 313.4 1038.3 310.7 1039.6 307.9 1040.8 305.2 1042.1 302.5 1043.3 299.7 1044.6 297.0 1045.9 294.3 1047.1 291.5 1048.4 288.8 1049.7 286.1 1051.0 283.4 1052.2 280.6 1053.5 277.9 1054.8 275.2 1056.1 272.5 1057.4 269.8 1058.7 267.0 1060.0 264.3 1061.3 261.6 1062.6 258.9 1063.9 256.2 1065.2 253.5 1066.5 250.8 1067.9 248.1 1069.2 245.4 1070.5 242.7 1071.8 240.0 1073.2 237.3 1074.5 234.6 1075.9 231.9 1077.2 229.2 1078.5 226.5 1079.9 223.8 1081.3 221.1 1082.6 218.4 1084.0 215.8 1085.3 213.1 1086.7 210.4 1088.1 207.7 1089.5 205.0 1090.8 202.4 1092.2 199.7 1093.6 197.0 1095.0 194.4 1096.4 191.7 1097.8 189.0 1099.2 186.4 1100.6 183.7 1102.0 181.1 1103.5 178.4 1104.9 175.7 1106.3 173.1 1107.7 170.4 1109.2 167.8 1110.6 165.2 1112.0 162.5 1113.5 159.9 1114.9 157.2 1116.4 154.6 1117.8 152.0 1119.3 149.3 1120.8 146.7 1122.2 144.1 1123.7 141.5 1125.2 138.8 1126.7 136.2 1128.2 133.6 1129.7 131.0 1131.1 128.4 1132.6 125.8 1134.2 123.2 1135.7 120.6 1137.2 118.0 1138.7 115.4 1140.2 112.8 1141.7 110.2 1143.3 107.6 1144.8 105.0 1146.3 102.4 1147.9 99.8 1149.4 97.2 1151.0 94.7 1152.5 92.1 1154.1 89.5 1155.7 86.9 1157.2 84.4 1158.8 81.8 1160.4 79.2 1162.0 76.7 1163.6 74.1 1165.2 71.6 1166.8 69.0" stroke="#808000"/>
<path d="M478.2 1258.2 481.2 1258.0 484.2 1257.8 487.2 1257.6 490.2 1257.5 493.2 1257.4 496.2 1257.3 499.3 1257.3 502.3 1257.2 505.3 1257.2 508.3 1257.2 511.3 1257.2 514.3 1257.2 517.3 1257.2 520.3 1257.2 523.3 1257.3 526.3 1257.3 529.4 1257.4 532.4 1257.5 535.4 1257.6 538.4 1257.7 541.4 1257.8 544.4 1257.9 547.4 1258.0 550.4 1258.1 553.4 1258.2 556.4 1258.3 559.4 1258.3 562.5 1258.4 565.5 1258.4 568.5 1258.4 571.5 1258.3 574.5 1258.2 577.5 1258.1 580.5 1257.9 583.5 1257.7 586.5 1257.4 589.5 1257.1 592.5 1256.6 595.4 1256.1 598.4 1255.6 601.3 1254.9 604.3 1254.1 607.1 1253.3 610.0 1252.4 612.8 1251.3 615.6 1250.2 618.4 1249.1 621.1 1247.8 623.8 1246.5 626.5 1245.0 629.1 1243.6 631.7 1242.0 634.3 1240.4 636.8 1238.8 639.2 1237.0 641.7 1235.3 644.1 1233.5 646.4 1231.6 648.7 1229.7 651.0 1227.7 653.3 1225.7 655.5 1223.7 657.7 1221.6 659.8 1219.5 661.9 1217.3 664.0 1215.2 666.1 1212.9 668.1 1210.7 670.0 1208.4 672.0 1206.2 673.9 1203.8 675.8 1201.5 677.7 1199.1 679.5 1196.8 681.3 1194.4 683.1 1191.9 684.9 1189.5 686.6 1187.0 688.3 1184.5 690.0 1182.1 691.7 1179.5 693.3 1177.0 694.9 1174.5 696.5 1171.9 698.1 1169.4 699.7 1166.8 701.2 1164.2 702.7 1161.6 704.2 1159.0 705.7 1156.3 707.1 1153.7 708.6 1151.1 710.0 1148.4 711.4 1145.8 712.8 1143.1 714.2 1140.4 715.5 1137.7 716.9 1135.0 718.2 1132.4 719.6 1129.7 720.9 1126.9 722.2 1124.2 723.5 1121.5 724.8 1118.8 726.1 1116.1 727.4 1113.4 728.7 1110.7 730.0 1107.9 731.2 1105.2 732.5 1102.5 733.8 1099.7 735.0 1097.0 736.3 1094.3 737.5 1091.5 738.8 1088.8 740.0 1086.0 741.2 1083.3 742.5 1080.5 743.7 1077.8 744.9 1075.0 746.1 1072.3 747.3 1069.5 748.5 1066.8 749.7 1064.0 750.9 1061.2 752.1 1058.5 753.3 1055.7 754.5 1052.9 755.7 1050.2 756.8 1047.4 758.0 1044.6 759.2 1041.8 760.3 1039.1 761.5 1036.3 762.7 1033.5 763.8 1030.7 765.0 1028.0 766.2 1025.2 767.3 1022.4 768.5 1019.6 769.6 1016.8 770.8 1014.1 771.9 1011.3 773.0 1008.5 774.2 1005.7 775.3 1002.9 776.5 1000.1 777.6 997.3 778.7 994.6 779.9 991.8 781.0 989.0 782.1 986.2 783.3 983.4 784.4 980.6 785.5 977.8 786.7 975.0 787.8 972.2 788.9 969.5 790.1 966.7 791.2 963.9 792.3 961.1 793.5 958.3 794.6 955.5 795.7 952.7 796.9 949.9 798.0 947.1 799.1 944.4 800.3 941.6 801.4 938.8 802.5 936.0 803.7 933.2 804.8 930.4 806.0 927.6 807.1 924.8 808.2 922.1 809.4 919.3 810.5 916.5 811.7 913.7 812.8 910.9 813.9 908.1 815.1 905.3 816.2 902.6 817.4 899.8 818.5 897.0 819.7 894.2 820.8 891.4 821.9 888.6 823.1 885.8 824.2 883.1 825.4 880.3 826.5 877.5 827.7 874.7 828.8 871.9 830.0 869.1 831.1 866.4 832.3 863.6 833.4 860.8 834.6 858.0 835.7 855.2 836.9 852.4 838.0 849.7 839.2 846.9 840.3 844.1 841.5 841.3 842.6 838.5 843.8 835.8 844.9 833.0 846.1 830.2 847.2 827.4 848.4 824.6 849.5 821.9 850.7 819.1 851.8 816.3 853.0 813.5 854.1 810.7 855.3 807.9 856.4 805.2 857.6 802.4 858.8 799.6 859.9 796.8 861.1 794.0 862.2 791.3 863.4 788.5 864.5 785.7 865.7 782.9 866.8 780.1 868.0 777.4 869.2 774.6 870.3 771.8 871.5 769.0 872.6 766.3 873.8 763.5 874.9 760.7 876.1 757.9 877.3 755.1 878.4 752.4 879.6 749.6 880.7 746.8 881.9 744.0 883.0 741.2 884.2 738.5 885.4 735.7 886.5 732.9 887.7 730.1 888.8 727.3 890.0 724.6 891.1 721.8 892.3 719.0 893.5 716.2 894.6 713.5 895.8 710.7 896.9 707.9 898.1 705.1 899.3 702.3 900.4 699.6 901.6 696.8 902.7 694.0 903.9 691.2 905.0 688.4 906.2 685.7 907.4 682.9 908.5 680.1 909.7 677.3 910.8 674.5 912.0 671.8 913.1 669.0 914.3 666.2 915.5 663.4 916.6 660.7 917.8 657.9 918.9 655.1 920.1 652.3 921.2 649.5 922.4 646.8 923.6 644.0 924.7 641.2 925.9 638.4 927.0 635.6 928.2 632.9 929.3 630.1 930.5 627.3 931.6 624.5 932.8 621.7 934.0 619.0 935.1 616.2 936.3 613.4 937.4 610.6 938.6 607.8 939.7 605.1 940.9 602.3 942.0 599.5 943.2 596.7 944.3 593.9 945.5 591.2 946.7 588.4 947.8 585.6 949.0 582.8 950.1 580.0 951.3 577.3 952.4 574.5 953.6 571.7 954.7 568.9 955.9 566.1 957.1 563.4 958.2 560.6 959.4 557.8 960.5 555.0 961.7 552.2 962.9 549.5 964.0 546.7 965.2 543.9 966.4 541.1 967.5 538.4 968.7 535.6 969.9 532.8 971.1 530.1 972.2 527.3 973.4 524.5 974.6 521.7 975.8 519.0 976.9 516.2 978.1 513.4 979.3 510.7 980.5 507.9 981.7 505.1 982.9 502.4 984.1 499.6 985.3 496.8 986.5 494.1 987.7 491.3 988.9 488.6 990.1 485.8 991.3 483.0 992.5 480.3 993.7 477.5 994.9 474.8 996.1 472.0 997.3 469.3 998.6 466.5 999.8 463.8 1001.0 461.0 1002.3 458.3 1003.5 455.5 1004.7 452.8 1006.0 450.0 1007.2 447.3 1008.5 444.6 1009.7 441.8 1011.0 439.1 1012.2 436.3 1013.5 433.6 1014.7 430.9 1016.0 428.1 1017.3 425.4 1018.5 422.7 1019.8 420.0 1021.1 417.2 1022.4 414.5 1023.7 411.8 1025.0 409.1 1026.3 406.4 1027.6 403.6 1028.9 400.9 1030.2 398.2 1031.5 395.5 1032.8 392.8 1034.1 390.1 1035.4 387.4 1036.8 384.7 1038.1 382.0 1039.5 379.3 1040.8 376.6 1042.1 373.9 1043.5 371.2 1044.8 368.5 1046.2 365.8 1047.6 363.2 1048.9 360.5 1050.3 357.8 1051.7 355.1 1053.1 352.4 1054.5 349.8 1055.8 347.1 1057.2 344.4 1058.6 341.8 1060.0 339.1 1061.4 336.4 1062.8 333.8 1064.3 331.1 1065.7 328.5 1067.1 325.8 1068.5 323.2 1069.9 320.5 1071.4 317.9 1072.8 315.2 1074.3 312.6 1075.7 309.9 1077.1 307.3 1078.6 304.6 1080.0 302.0 1081.5 299.4 1083.0 296.7 1084.4 294.1 1085.9 291.5 1087.4 288.9 1088.8 286.2 1090.3 283.6 1091.8 281.0 1093.3 278.4 1094.8 275.7 1096.3 273.1 1097.8 270.5 1099.3 267.9 1100.8 265.3 1102.3 262.7 1103.8 260.1 1105.3 257.5 1106.8 254.9 1108.3 252.3 1109.8 249.7 1111.3 247.1 1112.9 244.5 1114.4 241.9 1115.9 239.3 1117.5 236.7 1119.0 234.1 1120.5 231.5 1122.1 229.0 1123.6 226.4 1125.2 223.8 1126.7 221.2 1128.3 218.6 1129.9 216.1 1131.4 213.5 1133.0 210.9 1134.5 208.3 1136.1 205.8 1137.7 203.2 1139.3 200.6 1140.8 198.1 1142.4 195.5 1144.0 192.9 1145.6 190.4 1147.2 187.8 1148.7 185.3 1150.3 182.7 1151.9 180.2 1153.5 177.6 1155.1 175.1 1156.7 172.5 1158.3 170.0 1159.9 167.4 1161.5 164.9 1163.2 162.3 1164.8 159.8 1166.4 157.2 1168.0 154.7 1169.6 152.2 1171.2 149.6 1172.9 147.1 1174.5 144.6 1176.1 142.0 1177.7 139.5 1179.4 137.0 1181.0 134.4 1182.6 131.9 1184.3 129.4 1185.9 126.8 1187.6 124.3 1189.2 121.8 1190.8 119.3 1192.5 116.8 1194.1 114.2 1195.8 111.7 1197.4 109.2 1199.1 106.7 1200.7 104.2 1202.4 101.7 1204.1 99.1 1205.7 96.6 1207.4 94.1 1209.0 91.6 1210.7 89.1 1212.4 86.6 1214.0 84.1 1215.7 81.6 1217.4 79.1 1219.1 76.6 1220.7 74.1 1222.4 71.6 1224.1 69.1" stroke="#000080"/>
<path d="M478.1 1258.0 481.1 1257.8 484.1 1257.6 487.1 1257.5 490.1 1257.4 493.1 1257.3 496.1 1257.3 499.1 1257.2 502.2 1257.2 505.2 1257.3 508.2 1257.3 511.2 1257.4 514.2 1257.4 517.2 1257.5 520.2 1257.6 523.2 1257.7 526.2 1257.8 529.2 1257.9 532.2 1257.9 535.2 1258.0 538.3 1258.1 541.3 1258.1 544.3 1258.1 547.3 1258.1 550.3 1258.1 553.3 1257.9 556.3 1257.8 559.3 1257.6 562.3 1257.3 565.3 1257.0 568.3 1256.6 571.2 1256.1 574.2 1255.5 577.1 1254.9 580.1 1254.2 583.0 1253.5 585.9 1252.7 588.8 1251.8 591.6 1250.8 594.4 1249.8 597.3 1248.8 600.1 1247.6 602.8 1246.5 605.6 1245.2 608.3 1243.9 611.0 1242.6 613.7 1241.2 616.3 1239.8 618.9 1238.3 621.5 1236.7 624.0 1235.1 626.6 1233.5 629.1 1231.8 631.5 1230.1 633.9 1228.3 636.3 1226.5 638.7 1224.6 641.0 1222.7 643.3 1220.8 645.6 1218.8 647.8 1216.8 650.0 1214.7 652.2 1212.6 654.3 1210.5 656.4 1208.3 658.4 1206.1 660.4 1203.9 662.4 1201.6 664.3 1199.3 666.3 1197.0 668.1 1194.6 670.0 1192.2 671.8 1189.8 673.6 1187.4 675.3 1185.0 677.1 1182.5 678.8 1180.0 680.4 1177.5 682.1 1175.0 683.7 1172.5 685.3 1169.9 686.9 1167.4 688.5 1164.8 690.0 1162.2 691.5 1159.6 693.0 1157.0 694.5 1154.4 696.0 1151.8 697.4 1149.1 698.8 1146.5 700.3 1143.8 701.7 1141.2 703.1 1138.5 704.5 1135.8 705.9 1133.2 707.2 1130.5 708.6 1127.8 710.0 1125.1 711.3 1122.5 712.7 1119.8 714.1 1117.1 715.4 1114.4 716.8 1111.7 718.1 1109.0 719.4 1106.3 720.8 1103.6 722.1 1100.9 723.5 1098.2 724.8 1095.5 726.1 1092.8 727.5 1090.2 728.8 1087.5 730.1 1084.8 731.5 1082.0 732.8 1079.3 734.1 1076.6 735.4 1073.9 736.7 1071.2 738.0 1068.5 739.4 1065.8 740.7 1063.1 742.0 1060.4 743.3 1057.7 744.6 1055.0 745.9 1052.3 747.2 1049.5 748.5 1046.8 749.8 1044.1 751.1 1041.4 752.4 1038.7 753.7 1036.0 754.9 1033.2 756.2 1030.5 757.5 1027.8 758.8 1025.1 760.1 1022.4 761.4 1019.6 762.6 1016.9 763.9 1014.2 765.2 1011.5 766.5 1008.7 767.7 1006.0 769.0 1003.3 770.3 1000.5 771.5 997.8 772.8 995.1 774.0 992.4 775.3 989.6 776.6 986.9 777.8 984.2 779.1 981.4 780.3 978.7 781.6 976.0 782.8 973.2 784.1 970.5 785.3 967.7 786.6 965.0 787.8 962.3 789.1 959.5 790.3 956.8 791.6 954.0 792.8 951.3 794.0 948.6 795.3 945.8 796.5 943.1 797.7 940.3 799.0 937.6 800.2 934.8 801.4 932.1 802.7 929.3 803.9 926.6 805.1 923.8 806.3 921.1 807.6 918.4 808.8 915.6 810.0 912.9 811.2 910.1 812.5 907.4 813.7 904.6 814.9 901.9 816.1 899.1 817.3 896.3 818.5 893.6 819.8 890.8 821.0 888.1 822.2 885.3 823.4 882.6 824.6 879.8 825.8 877.1 827.0 874.3 828.2 871.6 829.4 868.8 830.7 866.0 831.9 863.3 833.1 860.5 834.3 857.8 835.5 855.0 836.7 852.3 837.9 849.5 839.1 846.7 840.3 844.0 841.5 841.2 842.7 838.5 843.9 835.7 845.1 833.0 846.3 830.2 847.5 827.4 848.7 824.7 849.9 821.9 851.1 819.2 852.3 816.4 853.5 813.6 854.7 810.9 855.9 808.1 857.1 805.4 858.3 802.6 859.5 799.8 860.7 797.1 861.9 794.3 863.0 791.5 864.2 788.8 865.4 786.0 866.6 783.3 867.8 780.5 869.0 777.7 870.2 775.0 871.4 772.2 872.6 769.5 873.8 766.7 875.0 763.9 876.2 761.2 877.4 758.4 878.6 755.6 879.8 752.9 881.0 750.1 882.2 747.4 883.4 744.6 884.6 741.8 885.7 739.1 886.9 736.3 888.1 733.6 889.3 730.8 890.5 728.0 891.7 725.3 892.9 722.5 894.1 719.7 895.3 717.0 896.5 714.2 897.7 711.5 898.9 708.7 900.1 705.9 901.3 703.2 902.5 700.4 903.7 697.7 904.9 694.9 906.1 692.2 907.3 689.4 908.5 686.6 909.7 683.9 910.9 681.1 912.2 678.4 913.4 675.6 914.6 672.9 915.8 670.1 917.0 667.3 918.2 664.6 919.4 661.8 920.6 659.1 921.8 656.3 923.1 653.6 924.3 650.8 925.5 648.1 926.7 645.3 927.9 642.6 929.2 639.8 930.4 637.1 931.6 634.3 932.8 631.6 934.1 628.8 935.3 626.1 936.5 623.3 937.8 620.6 939.0 617.9 940.2 615.1 941.5 612.4 942.7 609.6 943.9 606.9 945.2 604.1 946.4 601.4 947.7 598.7 948.9 595.9 950.2 593.2 951.4 590.5 952.7 587.7 953.9 585.0 955.2 582.2 956.4 579.5 957.7 576.8 959.0 574.1 960.2 571.3 961.5 568.6 962.8 565.9 964.0 563.1 965.3 560.4 966.6 557.7 967.9 555.0 969.1 552.2 970.4 549.5 971.7 546.8 973.0 544.1 974.3 541.4 975.6 538.6 976.9 535.9 978.2 533.2 979.5 530.5 980.8 527.8 982.1 525.1 983.4 522.4 984.7 519.6 986.0 516.9 987.3 514.2 988.6 511.5 989.9 508.8 991.3 506.1 992.6 503.4 993.9 500.7 995.3 498.0 996.6 495.3 997.9 492.6 999.3 489.9 1000.6 487.2 1002.0 484.6 1003.3 481.9 1004.7 479.2 1006.0 476.5 1007.4 473.8 1008.7 471.1 1010.1 468.4 1011.5 465.8 1012.8 463.1 1014.2 460.4 1015.6 457.7 1017.0 455.1 1018.4 452.4 1019.8 449.7 1021.1 447.0 1022.5 444.4 1023.9 441.7 1025.3 439.1 1026.7 436.4 1028.2 433.7 1029.6 431.1 1031.0 428.4 1032.4 425.8 1033.8 423.1 1035.3 420.5 1036.7 417.8 1038.1 415.2 1039.6 412.5 1041.0 409.9 1042.5 407.3 1043.9 404.6 1045.4 402.0 1046.8 399.4 1048.3 396.7 1049.7 394.1 1051.2 391.5 1052.7 388.9 1054.2 386.2 1055.7 383.6 1057.1 381.0 1058.6 378.4 1060.1 375.8 1061.6 373.2 1063.1 370.6 1064.6 368.0 1066.2 365.4 1067.7 362.8 1069.2 360.2 1070.7 357.6 1072.3 355.0 1073.8 352.4 1075.3 349.8 1076.9 347.2 1078.4 344.6 1080.0 342.1 1081.5 339.5 1083.1 336.9 1084.7 334.4 1086.2 331.8 1087.8 329.2 1089.4 326.7 1091.0 324.1 1092.6 321.6 1094.2 319.0 1095.8 316.5 1097.4 313.9 1099.0 311.4 1100.6 308.8 1102.2 306.3 1103.8 303.8 1105.5 301.2 1107.1 298.7 1108.7 296.2 1110.4 293.7 1112.0 291.1 1113.7 288.6 1115.3 286.1 1117.0 283.6 1118.7 281.1 1120.3 278.6 1122.0 276.1 1123.7 273.6 1125.4 271.1 1127.1 268.6 1128.8 266.2 1130.5 263.7 1132.2 261.2 1133.9 258.7 1135.7 256.3 1137.4 253.8 1139.1 251.3 1140.8 248.9 1142.6 246.4 1144.3 244.0 1146.1 241.5 1147.8 239.1 1149.6 236.6 1151.4 234.2 1153.1 231.8 1154.9 229.3 1156.7 226.9 1158.4 224.5 1160.2 222.1 1162.0 219.6 1163.8 217.2 1165.6 214.8 1167.4 212.4 1169.2 210.0 1171.0 207.6 1172.8 205.2 1174.6 202.8 1176.4 200.4 1178.3 198.0 1180.1 195.6 1181.9 193.2 1183.8 190.8 1185.6 188.4 1187.4 186.0 1189.3 183.6 1191.1 181.3 1193.0 178.9 1194.8 176.5 1196.7 174.1 1198.5 171.8 1200.4 169.4 1202.2 167.0 1204.1 164.7 1205.9 162.3 1207.8 160.0 1209.7 157.6 1211.6 155.2 1213.4 152.9 1215.3 150.5 1217.2 148.2 1219.1 145.8 1221.0 143.5 1222.8 141.2 1224.7 138.8 1226.6 136.5 1228.5 134.1 1230.4 131.8 1232.3 129.5 1234.2 127.1 1236.1 124.8 1238.0 122.5 1239.9 120.1 1241.8 117.8 1243.7 115.5 1245.6 113.1 1247.5 110.8 1249.4 108.5 1251.3 106.2 1253.2 103.8 1255.2 101.5 1257.1 99.2 1259.0 96.9 1260.9 94.5 1262.8 92.2 1264.7 89.9 1266.7 87.6 1268.6 85.3 1270.5 82.9 1272.4 80.6 1274.3 78.3 1276.3 76.0 1278.2 73.7 1280.1 71.4 1282.0 69.1" stroke="#800000"/>
<path d="M477.9 1257.0 480.9 1257.3 483.9 1257.4 486.9 1257.6 489.9 1257.7 492.9 1257.8 496.0 1257.8 499.0 1257.9 502.0 1257.9 505.0 1257.8 508.0 1257.7 511.0 1257.6 514.0 1257.4 517.0 1257.2 520.0 1257.0 523.0 1256.7 526.0 1256.4 529.0 1256.0 532.0 1255.6 535.0 1255.2 537.9 1254.7 540.9 1254.2 543.9 1253.6 546.8 1253.0 549.7 1252.3 552.7 1251.6 555.6 1250.9 558.5 1250.0 561.4 1249.2 564.2 1248.3 567.1 1247.3 569.9 1246.3 572.7 1245.2 575.5 1244.1 578.3 1242.9 581.1 1241.7 583.8 1240.4 586.5 1239.1 589.2 1237.7 591.8 1236.3 594.5 1234.9 597.1 1233.4 599.6 1231.8 602.2 1230.2 604.7 1228.5 607.2 1226.9 609.7 1225.1 612.1 1223.3 614.5 1221.5 616.9 1219.7 619.2 1217.8 621.5 1215.8 623.8 1213.8 626.0 1211.8 628.2 1209.8 630.4 1207.7 632.6 1205.6 634.7 1203.5 636.8 1201.3 638.8 1199.1 640.9 1196.9 642.9 1194.7 644.9 1192.4 646.9 1190.1 648.8 1187.8 650.7 1185.5 652.6 1183.2 654.5 1180.8 656.4 1178.5 658.2 1176.1 660.0 1173.7 661.8 1171.3 663.6 1168.9 665.4 1166.4 667.2 1164.0 668.9 1161.5 670.6 1159.0 672.3 1156.6 674.0 1154.1 675.7 1151.6 677.4 1149.1 679.1 1146.6 680.7 1144.1 682.4 1141.5 684.0 1139.0 685.6 1136.5 687.2 1133.9 688.9 1131.4 690.5 1128.9 692.1 1126.3 693.7 1123.8 695.3 1121.2 696.9 1118.6 698.5 1116.1 700.1 1113.5 701.6 1111.0 703.2 1108.4 704.8 1105.9 706.4 1103.3 708.0 1100.7 709.6 1098.2 711.2 1095.6 712.7 1093.1 714.3 1090.5 715.9 1087.9 717.4 1085.3 719.0 1082.8 720.6 1080.2 722.1 1077.6 723.7 1075.0 725.2 1072.5 726.8 1069.9 728.3 1067.3 729.9 1064.7 731.4 1062.1 733.0 1059.5 734.5 1057.0 736.0 1054.4 737.6 1051.8 739.1 1049.2 740.6 1046.6 742.1 1044.0 743.7 1041.4 745.2 1038.8 746.7 1036.2 748.2 1033.6 749.7 1030.9 751.2 1028.3 752.7 1025.7 754.2 1023.1 755.6 1020.5 757.1 1017.9 758.6 1015.2 760.1 1012.6 761.5 1010.0 763.0 1007.3 764.4 1004.7 765.9 1002.1 767.3 999.4 768.8 996.8 770.2 994.1 771.6 991.5 773.1 988.8 774.5 986.2 775.9 983.5 777.3 980.9 778.7 978.2 780.1 975.5 781.5 972.9 782.9 970.2 784.3 967.5 785.6 964.8 787.0 962.1 788.4 959.5 789.7 956.8 791.1 954.1 792.4 951.4 793.8 948.7 795.1 946.0 796.4 943.3 797.7 940.6 799.1 937.9 800.4 935.2 801.7 932.5 803.0 929.7 804.3 927.0 805.6 924.3 806.9 921.6 808.3 918.9 809.6 916.2 810.9 913.5 812.2 910.8 813.5 908.1 814.8 905.3 816.1 902.6 817.4 899.9 818.8 897.2 820.1 894.5 821.4 891.8 822.7 889.1 824.1 886.4 825.4 883.7 826.8 881.0 828.1 878.3 829.5 875.7 830.9 873.0 832.2 870.3 833.6 867.6 835.0 865.0 836.4 862.3 837.9 859.6 839.3 857.0 840.7 854.3 842.2 851.7 843.6 849.1 845.1 846.4 846.6 843.8 848.1 841.2 849.6 838.6 851.1 836.0 852.6 833.4 854.2 830.8 855.7 828.2 857.3 825.7 858.9 823.1 860.4 820.5 862.0 818.0 863.6 815.4 865.2 812.9 866.8 810.3 868.4 807.8 870.0 805.2 871.6 802.7 873.3 800.1 874.9 797.6 876.5 795.1 878.1 792.5 879.8 790.0 881.4 787.5 883.0 784.9 884.6 782.4 886.3 779.9 887.9 777.3 889.5 774.8 891.2 772.3 892.8 769.7 894.4 767.2 896.0 764.7 897.6 762.1 899.2 759.6 900.8 757.0 902.4 754.5 904.0 751.9 905.6 749.3 907.2 746.8 908.7 744.2 910.3 741.6 911.9 739.0 913.4 736.5 914.9 733.9 916.5 731.3 918.0 728.7 919.5 726.1 921.0 723.4 922.4 720.8 923.9 718.2 925.4 715.6 926.8 712.9 928.3 710.3 929.7 707.7 931.2 705.0 932.6 702.4 934.0 699.7 935.5 697.1 936.9 694.4 938.3 691.7 939.7 689.1 941.1 686.4 942.5 683.8 943.9 681.1 945.3 678.4 946.7 675.8 948.1 673.1 949.5 670.4 950.9 667.7 952.3 665.1 953.7 662.4 955.1 659.7 956.5 657.1 957.8 654.4 959.2 651.7 960.6 649.1 962.0 646.4 963.4 643.7 964.8 641.1 966.3 638.4 967.7 635.7 969.1 633.1 970.5 630.4 971.9 627.8 973.4 625.1 974.8 622.5 976.2 619.8 977.7 617.2 979.2 614.6 980.6 611.9 982.1 609.3 983.6 606.7 985.1 604.1 986.5 601.5 988.0 598.8 989.5 596.2 991.1 593.6 992.6 591.0 994.1 588.4 995.6 585.8 997.2 583.2 998.7 580.7 1000.2 578.1 1001.8 575.5 1003.3 572.9 1004.9 570.3 1006.4 567.7 1008.0 565.2 1009.6 562.6 1011.1 560.0 1012.7 557.5 1014.3 554.9 1015.9 552.3 1017.5 549.8 1019.0 547.2 1020.6 544.6 1022.2 542.1 1023.8 539.5 1025.4 537.0 1027.0 534.4 1028.6 531.9 1030.2 529.3 1031.8 526.8 1033.4 524.2 1035.0 521.7 1036.6 519.1 1038.2 516.6 1039.8 514.0 1041.4 511.4 1043.0 508.9 1044.6 506.3 1046.2 503.8 1047.7 501.2 1049.3 498.7 1050.9 496.1 1052.5 493.6 1054.1 491.0 1055.7 488.5 1057.3 485.9 1058.9 483.3 1060.5 480.8 1062.0 478.2 1063.6 475.7 1065.2 473.1 1066.8 470.5 1068.4 468.0 1070.0 465.4 1071.5 462.8 1073.1 460.3 1074.7 457.7 1076.3 455.2 1077.9 452.6 1079.5 450.0 1081.0 447.5 1082.6 444.9 1084.2 442.4 1085.8 439.8 1087.4 437.2 1089.0 434.7 1090.6 432.1 1092.2 429.6 1093.8 427.0 1095.4 424.5 1097.0 421.9 1098.6 419.4 1100.2 416.8 1101.8 414.3 1103.4 411.8 1105.0 409.2 1106.7 406.7 1108.3 404.1 1109.9 401.6 1111.5 399.1 1113.2 396.5 1114.8 394.0 1116.4 391.5 1118.1 389.0 1119.7 386.4 1121.4 383.9 1123.0 381.4 1124.7 378.9 1126.4 376.4 1128.0 373.9 1129.7 371.4 1131.4 368.9 1133.1 366.4 1134.8 363.9 1136.4 361.4 1138.1 358.9 1139.8 356.4 1141.5 353.9 1143.2 351.5 1145.0 349.0 1146.7 346.5 1148.4 344.0 1150.1 341.5 1151.8 339.1 1153.5 336.6 1155.3 334.1 1157.0 331.7 1158.7 329.2 1160.5 326.8 1162.2 324.3 1164.0 321.8 1165.7 319.4 1167.4 316.9 1169.2 314.5 1170.9 312.0 1172.7 309.6 1174.5 307.1 1176.2 304.7 1178.0 302.3 1179.7 299.8 1181.5 297.4 1183.3 294.9 1185.1 292.5 1186.8 290.1 1188.6 287.6 1190.4 285.2 1192.2 282.8 1193.9 280.4 1195.7 277.9 1197.5 275.5 1199.3 273.1 1201.1 270.7 1202.9 268.2 1204.7 265.8 1206.4 263.4 1208.2 261.0 1210.0 258.6 1211.8 256.1 1213.6 253.7 1215.4 251.3 1217.2 248.9 1219.0 246.5 1220.8 244.1 1222.6 241.7 1224.5 239.3 1226.3 236.9 1228.1 234.5 1229.9 232.1 1231.7 229.7 1233.6 227.3 1235.4 224.9 1237.2 222.5 1239.1 220.1 1240.9 217.7 1242.7 215.3 1244.6 213.0 1246.4 210.6 1248.3 208.2 1250.2 205.8 1252.0 203.5 1253.9 201.1 1255.8 198.8 1257.6 196.4 1259.5 194.1 1261.4 191.7 1263.3 189.4 1265.2 187.0 1267.1 184.7 1269.0 182.4 1270.9 180.0 1272.8 177.7 1274.7 175.4 1276.7 173.1 1278.6 170.8 1280.5 168.5 1282.5 166.2 1284.4 163.9 1286.4 161.6 1288.3 159.3 1290.3 157.0 1292.3 154.7 1294.3 152.5 1296.2 150.2 1298.2 147.9 1300.2 145.7 1302.2 143.4 1304.3 141.2 1306.3 139.0 1308.3 136.7 1310.3 134.5 1312.4 132.3 1314.4 130.1 1316.5 127.9 1318.5 125.7 1320.6 123.5 1322.7 121.3 1324.7 119.1 1326.8 117.0 1328.9 114.8 1331.0 112.6 1333.1 110.5 1335.3 108.4 1337.4 106.2 1339.5 104.1 1341.7 102.0 1343.8 99.9 1346.0 97.8 1348.1 95.7 1350.3 93.6 1352.5 91.5 1354.7 89.4 1356.9 87.4 1359.1 85.3 1361.3 83.3 1363.5 81.3 1365.7 79.2 1368.0 77.2 1370.2 75.2 1372.5 73.2 1374.8 71.3 1377.0 69.3" stroke="#008000"/>
</g>
<g font-family="'Liberation Sans', Arial, Helvetica, sans-serif" font-weight="bold" font-size="77" fill="#000">
<text x="155" y="1262.0">0.000</text>
<text x="155" y="1065.2">0.002</text>
<text x="155" y="868.3">0.004</text>
<text x="155" y="671.5">0.006</text>
<text x="155" y="474.7">0.008</text>
<text x="155" y="277.8">0.010</text>
<text x="155" y="81.0">0.012</text>
<text x="369.5" y="1345.3" text-anchor="middle">0.0</text>
<text x="636.3" y="1345.3" text-anchor="middle">0.5</text>
<text x="904.0" y="1345.3" text-anchor="middle">1.0</text>
<text x="1168.5" y="1345.3" text-anchor="middle">1.5</text>
<text x="1433.3" y="1345.3" text-anchor="middle">2.0</text>
<text x="1701.7" y="1345.3" text-anchor="middle">2.5</text>
<text x="1967.4" y="1345.3" text-anchor="middle">3.0</text>
<text x="439" y="172.3">SBD</text>
<text x="1374.7" y="250.7">573 K</text>
<text x="693" y="440">298 K</text>
</g>
<text font-family="'Liberation Sans', Arial, Helvetica, sans-serif" font-weight="bold" font-size="97" x="947" y="1464" textLength="504" lengthAdjust="spacing">Voltage (V)</text>
<text font-family="'Liberation Sans', Arial, Helvetica, sans-serif" font-weight="bold" font-size="97" transform="translate(108.3 937.8) rotate(-90)" textLength="510.5" lengthAdjust="spacing">Current (A)</text>
<path d="M887.5 386.0 L1346.4 227.8" stroke="#000" stroke-width="1.9" fill="none"/>
<path d="M1367.2 220.6 L1334.2 223.1 L1339.7 239.0 Z" fill="#000"/>
<rect x="1254.0" y="644.2" width="671.6" height="496.2" fill="#fff"/>
<g clip-path="url(#ci)" fill="none" stroke-width="2.6" stroke-linejoin="round" stroke-linecap="butt">
<path d="M1374.5 1145.6 1375.1 1143.2 1375.7 1140.8 1376.3 1138.3 1377.0 1135.9 1377.6 1133.4 1378.1 1131.0 1378.7 1128.5 1379.3 1126.1 1379.9 1123.6 1380.4 1121.2 1381.0 1118.7 1381.5 1116.2 1382.0 1113.8 1382.6 1111.3 1383.1 1108.9 1383.6 1106.4 1384.1 1103.9 1384.6 1101.5 1385.1 1099.0 1385.6 1096.5 1386.0 1094.0 1386.5 1091.6 1387.0 1089.1 1387.4 1086.6 1387.9 1084.1 1388.3 1081.7 1388.8 1079.2 1389.2 1076.7 1389.6 1074.2 1390.0 1071.7 1390.5 1069.3 1390.9 1066.8 1391.3 1064.3 1391.7 1061.8 1392.1 1059.3 1392.5 1056.8 1392.8 1054.4 1393.2 1051.9 1393.6 1049.4 1394.0 1046.9 1394.4 1044.4 1394.7 1041.9 1395.1 1039.4 1395.4 1036.9 1395.8 1034.4 1396.1 1031.9 1396.5 1029.4 1396.8 1027.0 1397.2 1024.5 1397.5 1022.0 1397.8 1019.5 1398.2 1017.0 1398.5 1014.5 1398.8 1012.0 1399.2 1009.5 1399.5 1007.0 1399.8 1004.5 1400.1 1002.0 1400.4 999.5 1400.8 997.0 1401.1 994.5 1401.4 992.0 1401.7 989.5 1402.0 987.0 1402.3 984.5 1402.6 982.0 1402.9 979.5 1403.2 977.0 1403.5 974.5 1403.8 972.0 1404.1 969.5 1404.4 967.0 1404.7 964.5 1405.0 962.0 1405.3 959.5 1405.6 957.0 1405.9 954.5 1406.2 952.0 1406.5 949.5 1406.8 947.0 1407.1 944.5 1407.5 942.0 1407.8 939.5 1408.1 937.0 1408.4 934.5 1408.7 932.0 1409.0 929.5 1409.3 927.0 1409.6 924.5 1409.9 922.0 1410.2 919.5 1410.6 917.0 1410.9 914.5 1411.2 912.0 1411.5 909.5 1411.8 907.0 1412.2 904.6 1412.5 902.1 1412.8 899.6 1413.2 897.1 1413.5 894.6 1413.9 892.1 1414.2 889.6 1414.5 887.1 1414.9 884.6 1415.3 882.1 1415.6 879.6 1416.0 877.1 1416.3 874.6 1416.7 872.1 1417.1 869.7 1417.5 867.2 1417.8 864.7 1418.2 862.2 1418.6 859.7 1419.0 857.2 1419.4 854.7 1419.8 852.2 1420.2 849.8 1420.7 847.3 1421.1 844.8 1421.5 842.3 1421.9 839.8 1422.4 837.4 1422.8 834.9 1423.3 832.4 1423.7 829.9 1424.2 827.5 1424.7 825.0 1425.1 822.5 1425.6 820.0 1426.1 817.6 1426.6 815.1 1427.1 812.6 1427.6 810.2 1428.1 807.7 1428.6 805.2 1429.2 802.8 1429.7 800.3 1430.3 797.9 1430.8 795.4 1431.4 793.0 1431.9 790.5 1432.5 788.0 1433.1 785.6 1433.7 783.2 1434.3 780.7 1434.9 778.3 1435.5 775.8 1436.2 773.4 1436.8 771.0 1437.4 768.5 1438.1 766.1 1438.8 763.7 1439.4 761.2 1440.1 758.8 1440.8 756.4 1441.5 754.0 1442.2 751.6 1443.0 749.2 1443.7 746.7 1444.4 744.3 1445.2 741.9 1446.0 739.5 1446.7 737.1 1447.5 734.8 1448.3 732.4 1449.1 730.0 1449.9 727.6 1450.8 725.2 1451.6 722.8 1452.5 720.5 1453.3 718.1 1454.2 715.8 1455.1 713.4 1456.1 711.1 1457.0 708.7 1458.0 706.4 1459.0 704.1 1460.0 701.8 1461.0 699.5 1462.1 697.2 1463.2 694.9 1464.3 692.7 1465.4 690.4 1466.6 688.2 1467.7 686.0 1469.0 683.8 1470.2 681.6 1471.5 679.4 1472.8 677.3 1474.1 675.1 1475.5 673.0 1476.9 671.0 1478.4 668.9 1479.8 666.8 1481.4 664.8 1482.9 662.8 1484.5 660.9 1486.1 659.0 1487.7 657.1 1489.4 655.2 1491.1 653.3 1492.9 651.5 1494.7 649.8 1496.5 648.0 1498.3 646.3 1500.2 644.6 1502.1 643.0 1504.1 641.4 1506.1 639.8" stroke="#ff0000"/>
<path d="M1364.3 1145.8 1364.9 1143.3 1365.5 1140.9 1366.1 1138.4 1366.7 1136.0 1367.3 1133.5 1367.9 1131.0 1368.4 1128.6 1369.0 1126.1 1369.5 1123.7 1370.1 1121.2 1370.6 1118.7 1371.1 1116.3 1371.7 1113.8 1372.2 1111.3 1372.7 1108.9 1373.2 1106.4 1373.7 1103.9 1374.2 1101.4 1374.7 1099.0 1375.2 1096.5 1375.7 1094.0 1376.1 1091.5 1376.6 1089.1 1377.0 1086.6 1377.5 1084.1 1378.0 1081.6 1378.4 1079.1 1378.8 1076.7 1379.3 1074.2 1379.7 1071.7 1380.1 1069.2 1380.6 1066.7 1381.0 1064.2 1381.4 1061.7 1381.8 1059.2 1382.2 1056.8 1382.6 1054.3 1383.0 1051.8 1383.4 1049.3 1383.8 1046.8 1384.2 1044.3 1384.6 1041.8 1384.9 1039.3 1385.3 1036.8 1385.7 1034.3 1386.1 1031.8 1386.4 1029.3 1386.8 1026.8 1387.2 1024.3 1387.5 1021.8 1387.9 1019.3 1388.2 1016.9 1388.6 1014.4 1388.9 1011.9 1389.3 1009.4 1389.6 1006.9 1390.0 1004.4 1390.3 1001.9 1390.7 999.4 1391.0 996.9 1391.4 994.4 1391.7 991.9 1392.1 989.4 1392.4 986.9 1392.7 984.4 1393.1 981.9 1393.4 979.4 1393.7 976.9 1394.1 974.4 1394.4 971.9 1394.8 969.4 1395.1 966.9 1395.4 964.4 1395.8 961.9 1396.1 959.4 1396.4 956.9 1396.8 954.4 1397.1 951.9 1397.5 949.4 1397.8 946.9 1398.1 944.4 1398.5 941.9 1398.8 939.4 1399.2 936.9 1399.5 934.4 1399.9 931.9 1400.2 929.4 1400.6 926.9 1400.9 924.4 1401.3 921.9 1401.6 919.4 1402.0 916.9 1402.3 914.4 1402.7 911.9 1403.1 909.4 1403.4 906.9 1403.8 904.4 1404.2 901.9 1404.6 899.4 1404.9 896.9 1405.3 894.4 1405.7 891.9 1406.1 889.5 1406.5 887.0 1406.9 884.5 1407.3 882.0 1407.7 879.5 1408.1 877.0 1408.5 874.5 1408.9 872.0 1409.4 869.5 1409.8 867.1 1410.2 864.6 1410.7 862.1 1411.1 859.6 1411.5 857.1 1412.0 854.6 1412.4 852.2 1412.9 849.7 1413.4 847.2 1413.8 844.7 1414.3 842.2 1414.8 839.8 1415.3 837.3 1415.8 834.8 1416.3 832.3 1416.8 829.9 1417.3 827.4 1417.8 824.9 1418.3 822.5 1418.9 820.0 1419.4 817.5 1419.9 815.1 1420.5 812.6 1421.0 810.1 1421.6 807.7 1422.2 805.2 1422.8 802.8 1423.3 800.3 1423.9 797.9 1424.5 795.4 1425.1 793.0 1425.8 790.5 1426.4 788.1 1427.0 785.6 1427.7 783.2 1428.3 780.8 1429.0 778.3 1429.6 775.9 1430.3 773.5 1431.0 771.0 1431.7 768.6 1432.4 766.2 1433.1 763.8 1433.8 761.4 1434.5 758.9 1435.3 756.5 1436.0 754.1 1436.8 751.7 1437.5 749.3 1438.3 746.9 1439.1 744.5 1439.9 742.1 1440.7 739.7 1441.5 737.3 1442.3 735.0 1443.2 732.6 1444.0 730.2 1444.9 727.8 1445.8 725.5 1446.6 723.1 1447.5 720.7 1448.4 718.4 1449.4 716.0 1450.3 713.7 1451.3 711.4 1452.3 709.1 1453.3 706.7 1454.3 704.4 1455.4 702.2 1456.5 699.9 1457.6 697.6 1458.8 695.4 1460.0 693.2 1461.2 690.9 1462.4 688.8 1463.7 686.6 1465.0 684.4 1466.4 682.3 1467.8 680.2 1469.2 678.1 1470.7 676.1 1472.2 674.1 1473.7 672.1 1475.3 670.1 1477.0 668.2 1478.6 666.3 1480.4 664.5 1482.1 662.7 1483.9 660.9 1485.8 659.2 1487.7 657.5 1489.6 655.9 1491.5 654.3 1493.5 652.8 1495.6 651.3 1497.7 649.8 1499.8 648.4 1501.9 647.1 1504.1 645.8 1506.3 644.6 1508.5 643.4 1510.8 642.3 1513.0 641.2" stroke="#00ff00"/>
<path d="M1354.1 1145.7 1354.8 1143.3 1355.4 1140.8 1356.0 1138.4 1356.6 1135.9 1357.2 1133.5 1357.8 1131.0 1358.4 1128.6 1359.0 1126.1 1359.6 1123.7 1360.2 1121.2 1360.7 1118.8 1361.3 1116.3 1361.9 1113.8 1362.4 1111.4 1362.9 1108.9 1363.5 1106.5 1364.0 1104.0 1364.5 1101.5 1365.0 1099.0 1365.6 1096.6 1366.1 1094.1 1366.6 1091.6 1367.0 1089.2 1367.5 1086.7 1368.0 1084.2 1368.5 1081.7 1369.0 1079.3 1369.4 1076.8 1369.9 1074.3 1370.3 1071.8 1370.8 1069.3 1371.2 1066.8 1371.7 1064.4 1372.1 1061.9 1372.5 1059.4 1373.0 1056.9 1373.4 1054.4 1373.8 1051.9 1374.2 1049.4 1374.7 1047.0 1375.1 1044.5 1375.5 1042.0 1375.9 1039.5 1376.3 1037.0 1376.7 1034.5 1377.1 1032.0 1377.5 1029.5 1377.9 1027.0 1378.2 1024.5 1378.6 1022.0 1379.0 1019.6 1379.4 1017.1 1379.8 1014.6 1380.1 1012.1 1380.5 1009.6 1380.9 1007.1 1381.3 1004.6 1381.6 1002.1 1382.0 999.6 1382.4 997.1 1382.7 994.6 1383.1 992.1 1383.5 989.6 1383.8 987.1 1384.2 984.6 1384.5 982.1 1384.9 979.6 1385.3 977.1 1385.6 974.6 1386.0 972.1 1386.3 969.6 1386.7 967.1 1387.1 964.6 1387.4 962.1 1387.8 959.6 1388.1 957.1 1388.5 954.7 1388.9 952.2 1389.2 949.7 1389.6 947.2 1390.0 944.7 1390.3 942.2 1390.7 939.7 1391.1 937.2 1391.4 934.7 1391.8 932.2 1392.2 929.7 1392.5 927.2 1392.9 924.7 1393.3 922.2 1393.7 919.7 1394.1 917.2 1394.4 914.7 1394.8 912.2 1395.2 909.7 1395.6 907.2 1396.0 904.8 1396.4 902.3 1396.8 899.8 1397.2 897.3 1397.6 894.8 1398.0 892.3 1398.5 889.8 1398.9 887.3 1399.3 884.8 1399.7 882.4 1400.2 879.9 1400.6 877.4 1401.0 874.9 1401.5 872.4 1401.9 869.9 1402.4 867.5 1402.8 865.0 1403.3 862.5 1403.7 860.0 1404.2 857.5 1404.7 855.1 1405.2 852.6 1405.7 850.1 1406.2 847.6 1406.7 845.2 1407.2 842.7 1407.7 840.2 1408.2 837.7 1408.7 835.3 1409.2 832.8 1409.8 830.3 1410.3 827.9 1410.8 825.4 1411.4 823.0 1412.0 820.5 1412.5 818.0 1413.1 815.6 1413.7 813.1 1414.3 810.7 1414.9 808.2 1415.5 805.8 1416.1 803.3 1416.7 800.9 1417.3 798.4 1417.9 796.0 1418.6 793.5 1419.2 791.1 1419.9 788.7 1420.5 786.2 1421.2 783.8 1421.9 781.4 1422.6 779.0 1423.3 776.5 1424.0 774.1 1424.7 771.7 1425.4 769.3 1426.2 766.9 1426.9 764.5 1427.7 762.0 1428.4 759.6 1429.2 757.2 1430.0 754.8 1430.8 752.4 1431.6 750.1 1432.4 747.7 1433.2 745.3 1434.0 742.9 1434.9 740.5 1435.7 738.1 1436.6 735.8 1437.5 733.4 1438.4 731.0 1439.2 728.7 1440.2 726.3 1441.1 724.0 1442.0 721.6 1443.0 719.3 1443.9 717.0 1444.9 714.6 1445.9 712.3 1446.9 710.0 1448.0 707.7 1449.1 705.5 1450.2 703.2 1451.3 700.9 1452.5 698.7 1453.6 696.5 1454.9 694.3 1456.1 692.1 1457.4 689.9 1458.7 687.7 1460.1 685.6 1461.5 683.5 1462.9 681.4 1464.4 679.4 1465.9 677.4 1467.4 675.4 1469.0 673.4 1470.6 671.5 1472.3 669.6 1474.0 667.7 1475.8 665.9 1477.6 664.2 1479.4 662.5 1481.3 660.8 1483.3 659.2 1485.2 657.6 1487.2 656.0 1489.3 654.6 1491.4 653.1 1493.5 651.8 1495.6 650.5 1497.8 649.2 1500.0 648.0 1502.3 646.8 1504.6 645.8 1506.9 644.7 1509.2 643.7 1511.5 642.8 1513.9 641.9 1516.3 641.1" stroke="#0000ff"/>
<path d="M1333.9 1145.7 1334.5 1143.2 1335.1 1140.8 1335.7 1138.3 1336.3 1135.9 1336.8 1133.5 1337.4 1131.0 1338.0 1128.6 1338.5 1126.1 1339.1 1123.7 1339.7 1121.2 1340.2 1118.8 1340.8 1116.3 1341.3 1113.9 1341.8 1111.4 1342.4 1108.9 1342.9 1106.5 1343.5 1104.0 1344.0 1101.6 1344.5 1099.1 1345.0 1096.7 1345.6 1094.2 1346.1 1091.8 1346.6 1089.3 1347.1 1086.8 1347.6 1084.4 1348.1 1081.9 1348.6 1079.5 1349.1 1077.0 1349.6 1074.5 1350.1 1072.1 1350.6 1069.6 1351.1 1067.1 1351.6 1064.7 1352.1 1062.2 1352.6 1059.7 1353.0 1057.3 1353.5 1054.8 1354.0 1052.3 1354.5 1049.9 1354.9 1047.4 1355.4 1044.9 1355.9 1042.5 1356.4 1040.0 1356.8 1037.5 1357.3 1035.1 1357.8 1032.6 1358.2 1030.1 1358.7 1027.7 1359.1 1025.2 1359.6 1022.7 1360.0 1020.3 1360.5 1017.8 1360.9 1015.3 1361.4 1012.8 1361.9 1010.4 1362.3 1007.9 1362.7 1005.4 1363.2 1003.0 1363.6 1000.5 1364.1 998.0 1364.5 995.5 1365.0 993.1 1365.4 990.6 1365.9 988.1 1366.3 985.6 1366.7 983.2 1367.2 980.7 1367.6 978.2 1368.1 975.7 1368.5 973.3 1368.9 970.8 1369.4 968.3 1369.8 965.9 1370.2 963.4 1370.7 960.9 1371.1 958.4 1371.5 956.0 1372.0 953.5 1372.4 951.0 1372.9 948.5 1373.3 946.1 1373.7 943.6 1374.2 941.1 1374.6 938.6 1375.0 936.2 1375.5 933.7 1375.9 931.2 1376.4 928.7 1376.8 926.3 1377.2 923.8 1377.7 921.3 1378.1 918.9 1378.6 916.4 1379.0 913.9 1379.5 911.4 1379.9 909.0 1380.3 906.5 1380.8 904.0 1381.2 901.5 1381.7 899.1 1382.1 896.6 1382.6 894.1 1383.0 891.7 1383.5 889.2 1384.0 886.7 1384.4 884.2 1384.9 881.8 1385.3 879.3 1385.8 876.8 1386.3 874.4 1386.7 871.9 1387.2 869.4 1387.7 867.0 1388.1 864.5 1388.6 862.0 1389.1 859.6 1389.6 857.1 1390.0 854.6 1390.5 852.2 1391.0 849.7 1391.5 847.2 1392.0 844.8 1392.5 842.3 1393.0 839.9 1393.5 837.4 1394.0 834.9 1394.6 832.5 1395.1 830.0 1395.6 827.6 1396.2 825.1 1396.7 822.7 1397.3 820.2 1397.9 817.8 1398.4 815.3 1399.0 812.9 1399.6 810.4 1400.2 808.0 1400.8 805.6 1401.5 803.1 1402.1 800.7 1402.7 798.3 1403.4 795.8 1404.1 793.4 1404.7 791.0 1405.4 788.6 1406.1 786.2 1406.8 783.8 1407.6 781.4 1408.3 779.0 1409.1 776.6 1409.8 774.2 1410.6 771.8 1411.4 769.4 1412.2 767.0 1413.0 764.7 1413.9 762.3 1414.8 759.9 1415.6 757.6 1416.5 755.2 1417.4 752.9 1418.4 750.6 1419.3 748.2 1420.3 745.9 1421.3 743.6 1422.3 741.3 1423.3 739.0 1424.3 736.7 1425.4 734.4 1426.5 732.2 1427.6 729.9 1428.7 727.7 1429.8 725.4 1431.0 723.2 1432.2 721.0 1433.4 718.8 1434.7 716.6 1435.9 714.4 1437.2 712.3 1438.5 710.1 1439.8 708.0 1441.2 705.9 1442.6 703.8 1444.0 701.7 1445.4 699.6 1446.9 697.6 1448.4 695.6 1449.9 693.6 1451.4 691.6 1453.0 689.6 1454.6 687.7 1456.2 685.8 1457.9 683.9 1459.5 682.0 1461.2 680.2 1463.0 678.3 1464.7 676.5 1466.5 674.8 1468.3 673.0 1470.2 671.3 1472.0 669.6 1473.9 668.0 1475.8 666.4 1477.8 664.8 1479.8 663.2 1481.8 661.7 1483.8 660.2 1485.8 658.7 1487.9 657.3 1490.0 655.9 1492.1 654.5 1494.2 653.2 1496.3 651.9 1498.5 650.6 1500.7 649.4 1502.9 648.2 1505.1 647.0 1507.4 645.9 1509.7 644.8 1511.9 643.8 1514.2 642.7 1516.5 641.8 1518.9 640.8 1521.2 639.9 1523.6 639.0" stroke="#00ffff"/>
<path d="M1325.6 1145.6 1326.2 1143.2 1326.7 1140.7 1327.3 1138.3 1327.8 1135.8 1328.4 1133.4 1328.9 1130.9 1329.5 1128.5 1330.0 1126.0 1330.6 1123.6 1331.1 1121.1 1331.6 1118.7 1332.2 1116.2 1332.7 1113.8 1333.2 1111.3 1333.8 1108.8 1334.3 1106.4 1334.8 1103.9 1335.3 1101.5 1335.8 1099.0 1336.4 1096.6 1336.9 1094.1 1337.4 1091.6 1337.9 1089.2 1338.4 1086.7 1338.9 1084.3 1339.4 1081.8 1339.9 1079.3 1340.4 1076.9 1340.9 1074.4 1341.4 1071.9 1341.9 1069.5 1342.4 1067.0 1342.9 1064.6 1343.4 1062.1 1343.9 1059.6 1344.4 1057.2 1344.9 1054.7 1345.4 1052.2 1345.8 1049.8 1346.3 1047.3 1346.8 1044.8 1347.3 1042.4 1347.8 1039.9 1348.3 1037.4 1348.7 1035.0 1349.2 1032.5 1349.7 1030.0 1350.2 1027.6 1350.6 1025.1 1351.1 1022.6 1351.6 1020.2 1352.1 1017.7 1352.5 1015.2 1353.0 1012.8 1353.5 1010.3 1354.0 1007.8 1354.4 1005.4 1354.9 1002.9 1355.4 1000.4 1355.8 998.0 1356.3 995.5 1356.8 993.0 1357.3 990.6 1357.7 988.1 1358.2 985.6 1358.7 983.2 1359.1 980.7 1359.6 978.2 1360.1 975.8 1360.5 973.3 1361.0 970.8 1361.5 968.4 1361.9 965.9 1362.4 963.4 1362.9 960.9 1363.4 958.5 1363.8 956.0 1364.3 953.5 1364.8 951.1 1365.2 948.6 1365.7 946.1 1366.2 943.7 1366.6 941.2 1367.1 938.7 1367.6 936.3 1368.1 933.8 1368.5 931.3 1369.0 928.9 1369.5 926.4 1370.0 923.9 1370.5 921.5 1370.9 919.0 1371.4 916.5 1371.9 914.1 1372.4 911.6 1372.9 909.1 1373.3 906.7 1373.8 904.2 1374.3 901.7 1374.8 899.3 1375.3 896.8 1375.8 894.4 1376.3 891.9 1376.8 889.4 1377.2 887.0 1377.7 884.5 1378.2 882.0 1378.7 879.6 1379.2 877.1 1379.7 874.6 1380.2 872.2 1380.7 869.7 1381.2 867.3 1381.7 864.8 1382.3 862.3 1382.8 859.9 1383.3 857.4 1383.8 855.0 1384.3 852.5 1384.8 850.1 1385.4 847.6 1385.9 845.1 1386.4 842.7 1387.0 840.2 1387.5 837.8 1388.1 835.3 1388.6 832.9 1389.2 830.4 1389.8 828.0 1390.4 825.5 1390.9 823.1 1391.5 820.7 1392.1 818.2 1392.8 815.8 1393.4 813.3 1394.0 810.9 1394.6 808.5 1395.3 806.1 1395.9 803.6 1396.6 801.2 1397.3 798.8 1398.0 796.4 1398.7 794.0 1399.4 791.5 1400.1 789.1 1400.8 786.7 1401.6 784.3 1402.3 781.9 1403.1 779.6 1403.9 777.2 1404.7 774.8 1405.5 772.4 1406.3 770.0 1407.2 767.7 1408.0 765.3 1408.9 763.0 1409.8 760.6 1410.7 758.3 1411.6 755.9 1412.6 753.6 1413.5 751.3 1414.5 749.0 1415.5 746.7 1416.5 744.4 1417.6 742.1 1418.6 739.8 1419.7 737.5 1420.8 735.3 1421.9 733.0 1423.0 730.8 1424.2 728.5 1425.4 726.3 1426.6 724.1 1427.8 721.9 1429.1 719.7 1430.3 717.6 1431.6 715.4 1432.9 713.3 1434.3 711.2 1435.7 709.1 1437.1 707.0 1438.5 704.9 1439.9 702.8 1441.4 700.8 1442.9 698.8 1444.4 696.8 1446.0 694.8 1447.6 692.9 1449.2 690.9 1450.8 689.0 1452.5 687.1 1454.1 685.3 1455.9 683.5 1457.6 681.6 1459.4 679.9 1461.2 678.1 1463.0 676.4 1464.9 674.7 1466.8 673.0 1468.7 671.4 1470.6 669.8 1472.6 668.2 1474.5 666.7 1476.6 665.2 1478.6 663.7 1480.7 662.3 1482.7 660.9 1484.8 659.5 1487.0 658.2 1489.1 656.9 1491.3 655.6 1493.5 654.4 1495.7 653.2 1498.0 652.1 1500.2 651.0 1502.5 649.9 1504.8 648.9 1507.1 647.9 1509.4 646.9 1511.7 646.0 1514.1 645.1 1516.4 644.2 1518.8 643.4 1521.2 642.6 1523.6 641.9 1526.0 641.2 1528.4 640.5 1530.9 639.9" stroke="#ff00ff"/>
<path d="M1306.5 1146.0 1307.0 1143.6 1307.5 1141.1 1308.0 1138.6 1308.5 1136.2 1309.0 1133.7 1309.5 1131.2 1310.0 1128.8 1310.5 1126.3 1311.0 1123.8 1311.5 1121.4 1312.0 1118.9 1312.5 1116.5 1313.0 1114.0 1313.5 1111.5 1314.0 1109.1 1314.6 1106.6 1315.1 1104.1 1315.6 1101.7 1316.1 1099.2 1316.6 1096.8 1317.1 1094.3 1317.7 1091.8 1318.2 1089.4 1318.7 1086.9 1319.2 1084.5 1319.8 1082.0 1320.3 1079.5 1320.8 1077.1 1321.4 1074.6 1321.9 1072.2 1322.4 1069.7 1323.0 1067.3 1323.5 1064.8 1324.0 1062.3 1324.6 1059.9 1325.1 1057.4 1325.7 1055.0 1326.2 1052.5 1326.8 1050.1 1327.3 1047.6 1327.8 1045.1 1328.4 1042.7 1328.9 1040.2 1329.5 1037.8 1330.0 1035.3 1330.6 1032.9 1331.1 1030.4 1331.7 1028.0 1332.2 1025.5 1332.8 1023.1 1333.3 1020.6 1333.9 1018.2 1334.5 1015.7 1335.0 1013.2 1335.6 1010.8 1336.1 1008.3 1336.7 1005.9 1337.2 1003.4 1337.8 1001.0 1338.4 998.5 1338.9 996.1 1339.5 993.6 1340.0 991.2 1340.6 988.7 1341.1 986.3 1341.7 983.8 1342.3 981.4 1342.8 978.9 1343.4 976.5 1344.0 974.0 1344.5 971.6 1345.1 969.1 1345.6 966.7 1346.2 964.2 1346.8 961.7 1347.3 959.3 1347.9 956.8 1348.4 954.4 1349.0 951.9 1349.6 949.5 1350.1 947.0 1350.7 944.6 1351.2 942.1 1351.8 939.7 1352.4 937.2 1352.9 934.8 1353.5 932.3 1354.0 929.9 1354.6 927.4 1355.1 925.0 1355.7 922.5 1356.3 920.1 1356.8 917.6 1357.4 915.2 1357.9 912.7 1358.5 910.2 1359.0 907.8 1359.6 905.3 1360.1 902.9 1360.7 900.4 1361.2 898.0 1361.8 895.5 1362.3 893.1 1362.9 890.6 1363.4 888.2 1364.0 885.7 1364.5 883.2 1365.0 880.8 1365.6 878.3 1366.1 875.9 1366.7 873.4 1367.2 871.0 1367.7 868.5 1368.3 866.0 1368.8 863.6 1369.4 861.1 1369.9 858.7 1370.4 856.2 1371.0 853.8 1371.5 851.3 1372.1 848.9 1372.6 846.4 1373.2 843.9 1373.7 841.5 1374.3 839.0 1374.8 836.6 1375.4 834.1 1376.0 831.7 1376.6 829.2 1377.1 826.8 1377.7 824.3 1378.3 821.9 1378.9 819.5 1379.5 817.0 1380.2 814.6 1380.8 812.2 1381.4 809.7 1382.1 807.3 1382.7 804.9 1383.4 802.4 1384.1 800.0 1384.8 797.6 1385.5 795.2 1386.2 792.8 1386.9 790.4 1387.7 788.0 1388.4 785.6 1389.2 783.2 1390.0 780.8 1390.8 778.4 1391.6 776.0 1392.4 773.6 1393.2 771.3 1394.1 768.9 1395.0 766.5 1395.9 764.2 1396.8 761.8 1397.7 759.5 1398.7 757.2 1399.6 754.9 1400.6 752.5 1401.6 750.2 1402.7 747.9 1403.7 745.7 1404.8 743.4 1405.9 741.1 1407.0 738.9 1408.1 736.6 1409.3 734.4 1410.5 732.2 1411.7 730.0 1412.9 727.8 1414.2 725.6 1415.5 723.4 1416.8 721.3 1418.1 719.2 1419.5 717.0 1420.8 714.9 1422.2 712.8 1423.7 710.8 1425.1 708.7 1426.6 706.7 1428.1 704.7 1429.6 702.7 1431.2 700.7 1432.8 698.7 1434.4 696.8 1436.0 694.9 1437.7 693.0 1439.4 691.1 1441.1 689.3 1442.8 687.5 1444.6 685.7 1446.4 683.9 1448.2 682.2 1450.0 680.5 1451.9 678.8 1453.8 677.1 1455.7 675.5 1457.7 673.9 1459.6 672.4 1461.6 670.8 1463.7 669.3 1465.7 667.9 1467.8 666.4 1469.9 665.0 1472.0 663.7 1474.1 662.4 1476.3 661.1 1478.5 659.8 1480.7 658.6 1482.9 657.4 1485.1 656.3 1487.4 655.2 1489.7 654.2 1492.0 653.1 1494.3 652.2 1496.6 651.2 1499.0 650.3 1501.4 649.5 1503.7 648.7 1506.1 647.9 1508.6 647.2 1511.0 646.5 1513.4 645.9 1515.8 645.3 1518.3 644.7 1520.8 644.2 1523.2 643.8 1525.7 643.3 1528.2 642.9 1530.7 642.6 1533.2 642.3 1535.7 642.0 1538.2 641.8 1540.7 641.6 1543.2 641.5" stroke="#ffff00"/>
<path d="M1294.5 1146.0 1295.0 1143.5 1295.5 1141.1 1296.0 1138.6 1296.6 1136.2 1297.1 1133.7 1297.6 1131.2 1298.2 1128.8 1298.7 1126.3 1299.2 1123.9 1299.7 1121.4 1300.3 1118.9 1300.8 1116.5 1301.3 1114.0 1301.9 1111.6 1302.4 1109.1 1302.9 1106.6 1303.5 1104.2 1304.0 1101.7 1304.5 1099.2 1305.1 1096.8 1305.6 1094.3 1306.1 1091.9 1306.7 1089.4 1307.2 1086.9 1307.7 1084.5 1308.3 1082.0 1308.8 1079.6 1309.3 1077.1 1309.9 1074.6 1310.4 1072.2 1311.0 1069.7 1311.5 1067.3 1312.0 1064.8 1312.6 1062.4 1313.1 1059.9 1313.7 1057.4 1314.2 1055.0 1314.7 1052.5 1315.3 1050.1 1315.8 1047.6 1316.4 1045.1 1316.9 1042.7 1317.5 1040.2 1318.0 1037.8 1318.5 1035.3 1319.1 1032.9 1319.6 1030.4 1320.2 1027.9 1320.7 1025.5 1321.3 1023.0 1321.8 1020.6 1322.4 1018.1 1322.9 1015.7 1323.5 1013.2 1324.0 1010.7 1324.6 1008.3 1325.1 1005.8 1325.7 1003.4 1326.2 1000.9 1326.8 998.5 1327.4 996.0 1327.9 993.6 1328.5 991.1 1329.0 988.6 1329.6 986.2 1330.1 983.7 1330.7 981.3 1331.3 978.8 1331.8 976.4 1332.4 973.9 1333.0 971.5 1333.5 969.0 1334.1 966.6 1334.6 964.1 1335.2 961.7 1335.8 959.2 1336.3 956.7 1336.9 954.3 1337.5 951.8 1338.0 949.4 1338.6 946.9 1339.2 944.5 1339.8 942.0 1340.3 939.6 1340.9 937.1 1341.5 934.7 1342.0 932.2 1342.6 929.8 1343.2 927.3 1343.8 924.9 1344.4 922.4 1344.9 920.0 1345.5 917.5 1346.1 915.1 1346.7 912.6 1347.3 910.2 1347.8 907.7 1348.4 905.3 1349.0 902.8 1349.6 900.4 1350.2 897.9 1350.8 895.5 1351.3 893.0 1351.9 890.6 1352.5 888.1 1353.1 885.7 1353.7 883.2 1354.3 880.8 1354.9 878.4 1355.5 875.9 1356.1 873.5 1356.7 871.0 1357.3 868.6 1357.9 866.1 1358.4 863.7 1359.0 861.2 1359.6 858.8 1360.3 856.3 1360.9 853.9 1361.5 851.5 1362.1 849.0 1362.7 846.6 1363.3 844.1 1364.0 841.7 1364.6 839.3 1365.2 836.8 1365.9 834.4 1366.5 832.0 1367.2 829.5 1367.9 827.1 1368.5 824.7 1369.2 822.3 1369.9 819.8 1370.6 817.4 1371.3 815.0 1372.0 812.6 1372.8 810.2 1373.5 807.8 1374.2 805.4 1375.0 803.0 1375.8 800.6 1376.6 798.2 1377.3 795.8 1378.2 793.4 1379.0 791.0 1379.8 788.6 1380.6 786.3 1381.5 783.9 1382.4 781.6 1383.3 779.2 1384.2 776.8 1385.1 774.5 1386.0 772.2 1387.0 769.8 1388.0 767.5 1388.9 765.2 1390.0 762.9 1391.0 760.6 1392.0 758.3 1393.1 756.0 1394.2 753.7 1395.2 751.5 1396.4 749.2 1397.5 747.0 1398.7 744.7 1399.8 742.5 1401.0 740.3 1402.3 738.1 1403.5 735.9 1404.8 733.7 1406.1 731.6 1407.4 729.4 1408.7 727.3 1410.1 725.2 1411.4 723.1 1412.8 721.0 1414.3 718.9 1415.7 716.8 1417.2 714.8 1418.7 712.7 1420.2 710.7 1421.7 708.7 1423.3 706.8 1424.8 704.8 1426.5 702.9 1428.1 701.0 1429.7 699.1 1431.4 697.2 1433.1 695.3 1434.8 693.5 1436.6 691.7 1438.3 689.9 1440.1 688.1 1442.0 686.4 1443.8 684.6 1445.7 682.9 1447.5 681.3 1449.4 679.6 1451.4 678.0 1453.3 676.4 1455.3 674.9 1457.3 673.3 1459.3 671.8 1461.4 670.4 1463.4 668.9 1465.5 667.5 1467.6 666.1 1469.8 664.8 1471.9 663.5 1474.1 662.2 1476.3 661.0 1478.5 659.8 1480.7 658.6 1482.9 657.5 1485.2 656.4 1487.5 655.3 1489.8 654.3 1492.1 653.3 1494.4 652.3 1496.8 651.4 1499.2 650.6 1501.5 649.7 1503.9 649.0 1506.3 648.2 1508.7 647.5 1511.2 646.8 1513.6 646.2 1516.1 645.6 1518.5 645.1 1521.0 644.6 1523.5 644.1 1526.0 643.7 1528.4 643.4 1530.9 643.0 1533.4 642.7 1535.9 642.5 1538.4 642.3 1541.0 642.1 1543.5 642.0 1546.0 641.9 1548.5 641.8 1551.0 641.8 1553.5 641.8 1556.1 641.9" stroke="#808000"/>
<path d="M1286.1 1145.9 1286.6 1143.5 1287.2 1141.0 1287.7 1138.6 1288.3 1136.1 1288.8 1133.7 1289.4 1131.2 1289.9 1128.8 1290.5 1126.3 1291.0 1123.9 1291.5 1121.4 1292.1 1119.0 1292.6 1116.5 1293.2 1114.1 1293.7 1111.6 1294.3 1109.2 1294.8 1106.7 1295.4 1104.3 1295.9 1101.8 1296.5 1099.3 1297.0 1096.9 1297.6 1094.4 1298.1 1092.0 1298.7 1089.5 1299.2 1087.1 1299.7 1084.6 1300.3 1082.2 1300.8 1079.7 1301.4 1077.3 1301.9 1074.8 1302.5 1072.4 1303.0 1069.9 1303.6 1067.5 1304.1 1065.0 1304.7 1062.6 1305.2 1060.1 1305.8 1057.7 1306.3 1055.2 1306.9 1052.8 1307.4 1050.3 1308.0 1047.9 1308.5 1045.4 1309.1 1043.0 1309.6 1040.5 1310.2 1038.1 1310.7 1035.6 1311.3 1033.2 1311.9 1030.7 1312.4 1028.2 1313.0 1025.8 1313.5 1023.3 1314.1 1020.9 1314.6 1018.4 1315.2 1016.0 1315.8 1013.5 1316.3 1011.1 1316.9 1008.7 1317.4 1006.2 1318.0 1003.8 1318.6 1001.3 1319.1 998.9 1319.7 996.4 1320.2 994.0 1320.8 991.5 1321.4 989.1 1321.9 986.6 1322.5 984.2 1323.1 981.7 1323.6 979.3 1324.2 976.8 1324.8 974.4 1325.4 971.9 1325.9 969.5 1326.5 967.0 1327.1 964.6 1327.7 962.1 1328.2 959.7 1328.8 957.3 1329.4 954.8 1330.0 952.4 1330.5 949.9 1331.1 947.5 1331.7 945.0 1332.3 942.6 1332.9 940.1 1333.5 937.7 1334.0 935.3 1334.6 932.8 1335.2 930.4 1335.8 927.9 1336.4 925.5 1337.0 923.0 1337.6 920.6 1338.2 918.2 1338.8 915.7 1339.4 913.3 1340.0 910.8 1340.6 908.4 1341.2 906.0 1341.8 903.5 1342.4 901.1 1343.0 898.6 1343.6 896.2 1344.2 893.8 1344.8 891.3 1345.4 888.9 1346.0 886.4 1346.6 884.0 1347.2 881.6 1347.8 879.1 1348.4 876.7 1349.1 874.3 1349.7 871.8 1350.3 869.4 1350.9 867.0 1351.5 864.5 1352.2 862.1 1352.8 859.7 1353.4 857.2 1354.1 854.8 1354.7 852.4 1355.3 849.9 1356.0 847.5 1356.6 845.1 1357.3 842.7 1358.0 840.2 1358.6 837.8 1359.3 835.4 1360.0 833.0 1360.7 830.6 1361.4 828.1 1362.1 825.7 1362.8 823.3 1363.5 820.9 1364.3 818.5 1365.0 816.1 1365.7 813.7 1366.5 811.3 1367.3 808.9 1368.1 806.5 1368.9 804.2 1369.7 801.8 1370.5 799.4 1371.3 797.0 1372.2 794.7 1373.0 792.3 1373.9 789.9 1374.8 787.6 1375.7 785.3 1376.6 782.9 1377.5 780.6 1378.5 778.3 1379.5 775.9 1380.4 773.6 1381.4 771.3 1382.5 769.0 1383.5 766.7 1384.6 764.5 1385.6 762.2 1386.7 759.9 1387.8 757.7 1389.0 755.4 1390.1 753.2 1391.3 751.0 1392.5 748.8 1393.7 746.6 1394.9 744.4 1396.2 742.2 1397.5 740.0 1398.8 737.9 1400.1 735.8 1401.5 733.6 1402.8 731.5 1404.2 729.4 1405.7 727.4 1407.1 725.3 1408.6 723.3 1410.1 721.3 1411.6 719.2 1413.1 717.3 1414.7 715.3 1416.2 713.3 1417.8 711.4 1419.5 709.5 1421.1 707.6 1422.8 705.7 1424.5 703.8 1426.2 702.0 1427.9 700.2 1429.7 698.4 1431.5 696.6 1433.3 694.9 1435.1 693.1 1436.9 691.4 1438.8 689.7 1440.7 688.1 1442.6 686.4 1444.5 684.8 1446.4 683.2 1448.4 681.7 1450.4 680.1 1452.4 678.6 1454.4 677.1 1456.4 675.6 1458.5 674.2 1460.6 672.8 1462.7 671.4 1464.8 670.0 1466.9 668.7 1469.1 667.4 1471.2 666.1 1473.4 664.9 1475.6 663.7 1477.8 662.5 1480.1 661.3 1482.3 660.2 1484.6 659.1 1486.9 658.1 1489.1 657.0 1491.4 656.0 1493.8 655.1 1496.1 654.1 1498.4 653.2 1500.8 652.4 1503.2 651.5 1505.6 650.7 1508.0 650.0 1510.4 649.2 1512.8 648.5 1515.2 647.9 1517.6 647.3 1520.1 646.7 1522.5 646.1 1525.0 645.6 1527.4 645.1 1529.9 644.6 1532.4 644.2 1534.9 643.8 1537.4 643.5 1539.9 643.2 1542.4 642.9 1544.9 642.7 1547.4 642.5 1549.9 642.3 1552.4 642.2 1554.9 642.1 1557.4 642.0 1559.9 642.0 1562.4 642.0 1564.9 642.0 1567.4 642.1 1570.0 642.2 1572.5 642.3" stroke="#000080"/>
<path d="M1275.1 1146.1 1275.6 1143.6 1276.1 1141.1 1276.7 1138.7 1277.2 1136.2 1277.7 1133.8 1278.2 1131.3 1278.7 1128.8 1279.3 1126.4 1279.8 1123.9 1280.3 1121.5 1280.9 1119.0 1281.4 1116.6 1281.9 1114.1 1282.5 1111.6 1283.0 1109.2 1283.6 1106.7 1284.1 1104.3 1284.7 1101.8 1285.2 1099.4 1285.8 1096.9 1286.3 1094.5 1286.9 1092.0 1287.5 1089.6 1288.0 1087.1 1288.6 1084.7 1289.2 1082.2 1289.7 1079.8 1290.3 1077.3 1290.9 1074.9 1291.4 1072.4 1292.0 1070.0 1292.6 1067.5 1293.2 1065.1 1293.8 1062.6 1294.4 1060.2 1294.9 1057.7 1295.5 1055.3 1296.1 1052.8 1296.7 1050.4 1297.3 1048.0 1297.9 1045.5 1298.5 1043.1 1299.1 1040.6 1299.7 1038.2 1300.3 1035.7 1300.9 1033.3 1301.5 1030.9 1302.1 1028.4 1302.7 1026.0 1303.3 1023.5 1303.9 1021.1 1304.5 1018.7 1305.1 1016.2 1305.7 1013.8 1306.4 1011.3 1307.0 1008.9 1307.6 1006.5 1308.2 1004.0 1308.8 1001.6 1309.4 999.1 1310.1 996.7 1310.7 994.3 1311.3 991.8 1311.9 989.4 1312.6 987.0 1313.2 984.5 1313.8 982.1 1314.4 979.7 1315.1 977.2 1315.7 974.8 1316.3 972.4 1317.0 969.9 1317.6 967.5 1318.2 965.1 1318.8 962.6 1319.5 960.2 1320.1 957.7 1320.7 955.3 1321.4 952.9 1322.0 950.4 1322.6 948.0 1323.3 945.6 1323.9 943.1 1324.5 940.7 1325.2 938.3 1325.8 935.8 1326.5 933.4 1327.1 931.0 1327.7 928.5 1328.4 926.1 1329.0 923.7 1329.6 921.3 1330.3 918.8 1330.9 916.4 1331.5 914.0 1332.2 911.5 1332.8 909.1 1333.5 906.7 1334.1 904.2 1334.7 901.8 1335.4 899.4 1336.0 896.9 1336.6 894.5 1337.3 892.1 1337.9 889.6 1338.5 887.2 1339.2 884.8 1339.8 882.3 1340.4 879.9 1341.1 877.5 1341.7 875.0 1342.3 872.6 1343.0 870.2 1343.6 867.7 1344.2 865.3 1344.9 862.8 1345.5 860.4 1346.1 858.0 1346.8 855.5 1347.4 853.1 1348.1 850.7 1348.7 848.3 1349.4 845.8 1350.0 843.4 1350.7 841.0 1351.3 838.5 1352.0 836.1 1352.7 833.7 1353.4 831.3 1354.1 828.9 1354.7 826.4 1355.5 824.0 1356.2 821.6 1356.9 819.2 1357.6 816.8 1358.4 814.4 1359.1 812.0 1359.9 809.6 1360.7 807.2 1361.4 804.8 1362.2 802.4 1363.1 800.1 1363.9 797.7 1364.7 795.3 1365.6 793.0 1366.4 790.6 1367.3 788.2 1368.2 785.9 1369.2 783.5 1370.1 781.2 1371.0 778.9 1372.0 776.6 1373.0 774.3 1374.0 772.0 1375.0 769.7 1376.1 767.4 1377.2 765.1 1378.2 762.8 1379.4 760.6 1380.5 758.3 1381.6 756.1 1382.8 753.9 1384.0 751.7 1385.3 749.5 1386.5 747.3 1387.8 745.1 1389.1 743.0 1390.4 740.8 1391.8 738.7 1393.1 736.6 1394.5 734.5 1396.0 732.4 1397.4 730.4 1398.9 728.4 1400.4 726.4 1401.9 724.4 1403.5 722.4 1405.1 720.4 1406.7 718.5 1408.3 716.6 1410.0 714.7 1411.7 712.8 1413.4 711.0 1415.1 709.2 1416.9 707.4 1418.6 705.6 1420.4 703.8 1422.3 702.1 1424.1 700.4 1426.0 698.7 1427.8 697.0 1429.7 695.4 1431.7 693.7 1433.6 692.2 1435.6 690.6 1437.6 689.0 1439.6 687.5 1441.6 686.0 1443.6 684.5 1445.7 683.1 1447.8 681.7 1449.8 680.3 1452.0 678.9 1454.1 677.6 1456.2 676.2 1458.4 674.9 1460.5 673.7 1462.7 672.4 1464.9 671.2 1467.2 670.1 1469.4 668.9 1471.6 667.8 1473.9 666.7 1476.2 665.6 1478.5 664.6 1480.8 663.5 1483.1 662.5 1485.4 661.6 1487.7 660.7 1490.1 659.7 1492.4 658.9 1494.8 658.0 1497.2 657.2 1499.6 656.4 1501.9 655.6 1504.3 654.8 1506.8 654.1 1509.2 653.4 1511.6 652.7 1514.0 652.1 1516.4 651.4 1518.9 650.8 1521.3 650.2 1523.8 649.6 1526.2 649.1 1528.7 648.6 1531.2 648.1 1533.6 647.6 1536.1 647.2 1538.6 646.7 1541.1 646.3 1543.5 645.9 1546.0 645.5 1548.5 645.2 1551.0 644.9 1553.5 644.6 1556.0 644.3 1558.5 644.0 1561.0 643.7 1563.5 643.5 1566.0 643.3 1568.5 643.1 1571.0 642.9 1573.5 642.8 1576.1 642.6 1578.6 642.5 1581.1 642.4 1583.6 642.3 1586.1 642.3 1588.6 642.2 1591.1 642.2" stroke="#800000"/>
<path d="M1261.2 1145.9 1261.7 1143.4 1262.2 1140.9 1262.7 1138.5 1263.2 1136.0 1263.7 1133.5 1264.2 1131.1 1264.7 1128.6 1265.2 1126.1 1265.7 1123.7 1266.2 1121.2 1266.7 1118.7 1267.2 1116.3 1267.7 1113.8 1268.2 1111.3 1268.8 1108.9 1269.3 1106.4 1269.8 1103.9 1270.3 1101.5 1270.8 1099.0 1271.3 1096.5 1271.8 1094.1 1272.3 1091.6 1272.8 1089.1 1273.3 1086.7 1273.8 1084.2 1274.4 1081.8 1274.9 1079.3 1275.4 1076.8 1275.9 1074.4 1276.4 1071.9 1276.9 1069.4 1277.5 1067.0 1278.0 1064.5 1278.5 1062.1 1279.0 1059.6 1279.5 1057.1 1280.1 1054.7 1280.6 1052.2 1281.1 1049.7 1281.7 1047.3 1282.2 1044.8 1282.7 1042.4 1283.3 1039.9 1283.8 1037.5 1284.3 1035.0 1284.9 1032.5 1285.4 1030.1 1286.0 1027.6 1286.5 1025.2 1287.1 1022.7 1287.6 1020.3 1288.2 1017.8 1288.7 1015.3 1289.3 1012.9 1289.8 1010.4 1290.4 1008.0 1290.9 1005.5 1291.5 1003.1 1292.1 1000.6 1292.6 998.2 1293.2 995.7 1293.8 993.3 1294.4 990.8 1294.9 988.4 1295.5 985.9 1296.1 983.5 1296.7 981.0 1297.3 978.6 1297.9 976.1 1298.5 973.7 1299.1 971.2 1299.7 968.8 1300.3 966.4 1300.9 963.9 1301.5 961.5 1302.1 959.0 1302.7 956.6 1303.3 954.1 1303.9 951.7 1304.5 949.3 1305.2 946.8 1305.8 944.4 1306.4 942.0 1307.1 939.5 1307.7 937.1 1308.3 934.7 1309.0 932.2 1309.6 929.8 1310.3 927.4 1310.9 924.9 1311.6 922.5 1312.2 920.1 1312.9 917.6 1313.6 915.2 1314.2 912.8 1314.9 910.4 1315.6 907.9 1316.3 905.5 1317.0 903.1 1317.7 900.7 1318.3 898.3 1319.0 895.8 1319.7 893.4 1320.4 891.0 1321.1 888.6 1321.9 886.2 1322.6 883.8 1323.3 881.4 1324.0 878.9 1324.7 876.5 1325.5 874.1 1326.2 871.7 1326.9 869.3 1327.7 866.9 1328.4 864.5 1329.2 862.1 1329.9 859.7 1330.7 857.3 1331.5 854.9 1332.2 852.5 1333.0 850.1 1333.8 847.7 1334.6 845.3 1335.4 842.9 1336.1 840.5 1336.9 838.2 1337.7 835.8 1338.5 833.4 1339.4 831.0 1340.2 828.6 1341.0 826.2 1341.8 823.9 1342.7 821.5 1343.5 819.1 1344.4 816.8 1345.3 814.4 1346.1 812.0 1347.0 809.7 1347.9 807.3 1348.8 805.0 1349.8 802.7 1350.7 800.3 1351.7 798.0 1352.6 795.7 1353.6 793.4 1354.6 791.0 1355.6 788.7 1356.6 786.4 1357.7 784.2 1358.7 781.9 1359.8 779.6 1360.9 777.3 1362.0 775.1 1363.2 772.8 1364.3 770.6 1365.5 768.4 1366.7 766.1 1367.9 763.9 1369.1 761.7 1370.4 759.6 1371.7 757.4 1373.0 755.2 1374.3 753.1 1375.6 751.0 1377.0 748.9 1378.4 746.8 1379.8 744.7 1381.3 742.6 1382.7 740.6 1384.2 738.6 1385.7 736.5 1387.3 734.5 1388.8 732.6 1390.4 730.6 1392.0 728.7 1393.6 726.8 1395.3 724.9 1396.9 723.0 1398.6 721.1 1400.4 719.3 1402.1 717.5 1403.9 715.7 1405.7 713.9 1407.5 712.1 1409.3 710.4 1411.2 708.7 1413.0 707.1 1414.9 705.4 1416.9 703.8 1418.8 702.2 1420.8 700.6 1422.8 699.1 1424.8 697.6 1426.8 696.1 1428.9 694.6 1430.9 693.2 1433.0 691.8 1435.1 690.4 1437.3 689.1 1439.4 687.8 1441.6 686.5 1443.7 685.2 1445.9 684.0 1448.1 682.7 1450.3 681.6 1452.6 680.4 1454.8 679.3 1457.1 678.1 1459.4 677.1 1461.6 676.0 1463.9 674.9 1466.2 673.9 1468.5 672.9 1470.9 672.0 1473.2 671.0 1475.5 670.1 1477.9 669.2 1480.2 668.3 1482.6 667.4 1485.0 666.6 1487.3 665.7 1489.7 664.9 1492.1 664.1 1494.5 663.4 1496.9 662.6 1499.3 661.9 1501.7 661.2 1504.1 660.5 1506.6 659.8 1509.0 659.1 1511.4 658.5 1513.9 657.9 1516.3 657.2 1518.7 656.6 1521.2 656.1 1523.6 655.5 1526.1 654.9 1528.6 654.4 1531.0 653.9 1533.5 653.4 1536.0 652.9 1538.4 652.4 1540.9 651.9 1543.4 651.5 1545.8 651.0 1548.3 650.6 1550.8 650.2 1553.3 649.8 1555.8 649.4 1558.3 649.0 1560.7 648.6 1563.2 648.2 1565.7 647.9 1568.2 647.5 1570.7 647.2 1573.2 646.9 1575.7 646.6 1578.2 646.3 1580.7 646.0 1583.2 645.7 1585.7 645.4 1588.2 645.1 1590.7 644.9 1593.2 644.6 1595.7 644.4 1598.2 644.1 1600.7 643.9 1603.2 643.7 1605.7 643.5 1608.3 643.3 1610.8 643.1 1613.3 642.9 1615.8 642.7 1618.3 642.5 1620.8 642.3 1623.3 642.1" stroke="#008000"/>
</g>
<path d="M1254.0 1110.5h6.5 M1254.0 1093.1h6.5 M1254.0 1080.7h6.5 M1254.0 1071.0h6.5 M1254.0 1063.2h6.5 M1254.0 1056.5h6.5 M1254.0 1050.8h6.5 M1254.0 1045.7h6.5 M1254.0 1041.2h12 M1254.0 1011.3h6.5 M1254.0 993.8h6.5 M1254.0 981.4h6.5 M1254.0 971.8h6.5 M1254.0 963.9h6.5 M1254.0 957.3h6.5 M1254.0 951.5h6.5 M1254.0 946.5h6.5 M1254.0 941.9h12 M1254.0 912.0h6.5 M1254.0 894.6h6.5 M1254.0 882.2h6.5 M1254.0 872.6h6.5 M1254.0 864.7h6.5 M1254.0 858.1h6.5 M1254.0 852.3h6.5 M1254.0 847.2h6.5 M1254.0 842.7h12 M1254.0 812.8h6.5 M1254.0 795.3h6.5 M1254.0 782.9h6.5 M1254.0 773.3h6.5 M1254.0 765.5h6.5 M1254.0 758.8h6.5 M1254.0 753.1h6.5 M1254.0 748.0h6.5 M1254.0 743.4h12 M1254.0 713.6h6.5 M1254.0 696.1h6.5 M1254.0 683.7h6.5 M1254.0 674.1h6.5 M1254.0 666.2h6.5 M1254.0 659.6h6.5 M1254.0 653.8h6.5 M1254.0 648.7h6.5 M1310.0 1140.4v-6 M1365.9 1140.4v-11 M1421.9 1140.4v-6 M1477.9 1140.4v-11 M1533.8 1140.4v-6 M1589.8 1140.4v-11 M1645.8 1140.4v-6 M1701.7 1140.4v-11 M1757.7 1140.4v-6 M1813.7 1140.4v-11 M1869.6 1140.4v-6" stroke="#5c5c5c" stroke-width="2.4" fill="none"/>
<rect x="1254.0" y="644.2" width="671.6" height="496.2" fill="none" stroke="#5c5c5c" stroke-width="2.7"/>
<g font-family="'Liberation Sans', Arial, Helvetica, sans-serif" font-weight="bold" fill="#000">
<text x="1155" y="664.7" font-size="53.5">10</text>
<text x="1215.5" y="635.7" font-size="34" font-weight="normal">-2</text>
<text x="1155" y="763.9" font-size="53.5">10</text>
<text x="1215.5" y="734.9" font-size="34" font-weight="normal">-3</text>
<text x="1155" y="863.1" font-size="53.5">10</text>
<text x="1215.5" y="834.1" font-size="34" font-weight="normal">-4</text>
<text x="1155" y="962.3" font-size="53.5">10</text>
<text x="1215.5" y="933.3" font-size="34" font-weight="normal">-5</text>
<text x="1155" y="1061.5" font-size="53.5">10</text>
<text x="1215.5" y="1032.5" font-size="34" font-weight="normal">-6</text>
<text x="1155" y="1160.7" font-size="53.5">10</text>
<text x="1215.5" y="1131.7" font-size="34" font-weight="normal">-7</text>
<text x="1254.5" y="1193.6" font-size="53.5" text-anchor="middle">0.0</text>
<text x="1366.4" y="1193.6" font-size="53.5" text-anchor="middle">0.5</text>
<text x="1478.4" y="1193.6" font-size="53.5" text-anchor="middle">1.0</text>
<text x="1590.3" y="1193.6" font-size="53.5" text-anchor="middle">1.5</text>
<text x="1702.2" y="1193.6" font-size="53.5" text-anchor="middle">2.0</text>
<text x="1814.2" y="1193.6" font-size="53.5" text-anchor="middle">2.5</text>
<text x="1926.1" y="1193.6" font-size="53.5" text-anchor="middle">3.0</text>
<text x="1469" y="1241.3" font-size="52" textLength="280.5" lengthAdjust="spacing">Voltage (V)</text>
<text font-size="52" transform="translate(1133 1024) rotate(-90)" textLength="283.5" lengthAdjust="spacing">Current (A)</text>
<text x="1737" y="697.5" font-size="53">SBD</text>
<text x="1261" y="698" font-size="53.5">573 K</text>
<text x="1438.7" y="900.5" font-size="54">298 K</text>
</g>
<path d="M1448.2 844.3 L1325.4 715.5" stroke="#777" stroke-width="1.6" fill="none"/>
<path d="M1315.0 704.6 L1322.7 717.9 L1328.0 713.0 Z" fill="#111"/>
</svg></body></html>
